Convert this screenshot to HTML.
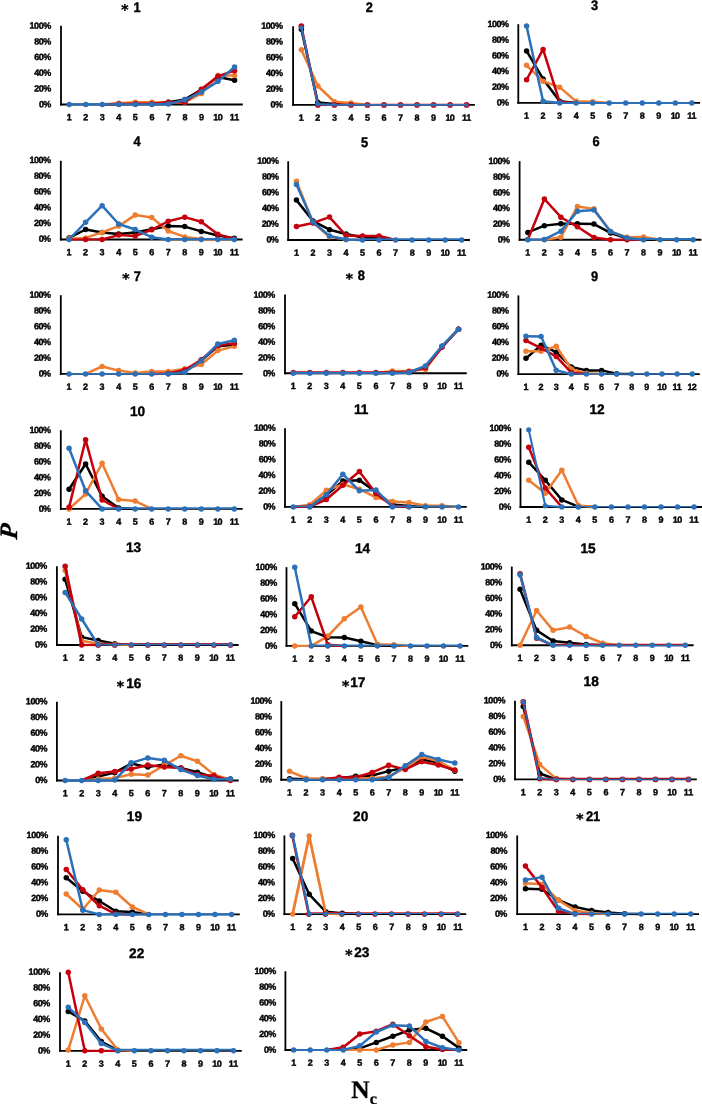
<!DOCTYPE html>
<html lang="en"><head><meta charset="utf-8"><title>Figure</title>
<style>
html,body{margin:0;padding:0;background:#fff}
svg{display:block}
text{text-rendering:geometricPrecision;white-space:pre}
.l{font:bold 9px "Liberation Sans",sans-serif;fill:#000;stroke:#000;stroke-width:.4px}
.t{font:bold 13.8px "Liberation Sans",sans-serif;fill:#000;text-anchor:middle;stroke:#000;stroke-width:.4px}
.a{font:bold 13.8px "DejaVu Sans","Liberation Sans",sans-serif;fill:#000;text-anchor:middle;stroke:#000;stroke-width:.4px}
.y{text-anchor:end}
.x{text-anchor:middle}
.s{fill:none;stroke-linejoin:round;stroke-linecap:round}
.f{fill:none}
</style></head>
<body>
<svg width="702" height="1104" viewBox="0 0 702 1104">
<rect width="702" height="1104" fill="#fff"/>
<g id="c1">
<g transform="rotate(.03 152 120)">
<text class="t" x="137.09" y="12" textLength="7.14" lengthAdjust="spacingAndGlyphs">1</text>
<text class="a" x="124.8" y="14.5">*</text>
<text class="l y" x="51.2" y="107.4" textLength="12.29">0%</text><text class="l y" x="51.2" y="91.66" textLength="17.02">20%</text><text class="l y" x="51.2" y="75.92" textLength="17.02">40%</text><text class="l y" x="51.2" y="60.18" textLength="17.02">60%</text><text class="l y" x="51.2" y="44.44" textLength="17.02">80%</text><text class="l y" x="51.2" y="28.7" textLength="21.75">100%</text>
<text class="l x" x="69.26" y="120.25">1</text><text class="l x" x="85.79" y="120.25">2</text><text class="l x" x="102.32" y="120.25">3</text><text class="l x" x="118.85" y="120.25">4</text><text class="l x" x="135.37" y="120.25">5</text><text class="l x" x="151.9" y="120.25">6</text><text class="l x" x="168.43" y="120.25">7</text><text class="l x" x="184.95" y="120.25">8</text><text class="l x" x="201.48" y="120.25">9</text><text class="l x" x="218.01" y="120.25" textLength="9.31">10</text><text class="l x" x="234.54" y="120.25" textLength="9.31">11</text>
</g>
<path d="M61 25.8V105.45" fill="none" stroke="#000" stroke-width="1.8"/><path d="M60.1 104.5H242.8" fill="none" stroke="#000" stroke-width="1.9"/>
<g fill="#000000" stroke="#000000"><path class="s" stroke-width="2.5" d="M102.32 104.5L118.85 104.11L135.37 103.71L151.9 103.71L168.43 102.14L184.95 99.38L201.48 89.55L218.01 76.95L234.54 80.34"/><g stroke="none"><circle cx="118.85" cy="104.11" r="2.75"/><circle cx="135.37" cy="103.71" r="2.75"/><circle cx="151.9" cy="103.71" r="2.75"/><circle cx="168.43" cy="102.14" r="2.75"/><circle cx="184.95" cy="99.38" r="2.75"/><circle cx="201.48" cy="89.55" r="2.75"/><circle cx="218.01" cy="76.95" r="2.75"/><circle cx="234.54" cy="80.34" r="2.75"/></g></g>
<g fill="#ED7D31" stroke="#ED7D31"><path class="s" stroke-width="2.5" d="M102.32 104.5L118.85 103.32L135.37 102.14L151.9 102.14L168.43 102.93L184.95 102.14L201.48 93.48L218.01 75.38L234.54 75.38"/><g stroke="none"><circle cx="118.85" cy="103.32" r="2.75"/><circle cx="135.37" cy="102.14" r="2.75"/><circle cx="151.9" cy="102.14" r="2.75"/><circle cx="168.43" cy="102.93" r="2.75"/><circle cx="184.95" cy="102.14" r="2.75"/><circle cx="201.48" cy="93.48" r="2.75"/><circle cx="218.01" cy="75.38" r="2.75"/><circle cx="234.54" cy="75.38" r="2.75"/></g></g>
<g fill="#C4000C" stroke="#C4000C"><path class="s" stroke-width="2.5" d="M102.32 104.5L118.85 104.11L135.37 103.71L151.9 103.71L168.43 102.14L184.95 102.3L201.48 89.31L218.01 76.17L234.54 70.66"/><g stroke="none"><circle cx="118.85" cy="104.11" r="2.75"/><circle cx="135.37" cy="103.71" r="2.75"/><circle cx="151.9" cy="103.71" r="2.75"/><circle cx="168.43" cy="102.14" r="2.75"/><circle cx="184.95" cy="102.3" r="2.75"/><circle cx="201.48" cy="89.31" r="2.75"/><circle cx="218.01" cy="76.17" r="2.75"/><circle cx="234.54" cy="70.66" r="2.75"/></g></g>
<g fill="#2B70B8" stroke="#2B70B8"><path class="s" stroke-width="2.5" d="M151.9 104.5L168.43 104.11L184.95 99.78L201.48 92.07L218.01 81.36L234.54 66.88"/><path class="f" stroke-width="2.2" d="M69.26 104.35H85.79M85.79 104.35H102.32M102.32 104.35H118.85M118.85 104.35H135.37M135.37 104.35H151.9"/><g stroke="none"><circle cx="69.26" cy="104.5" r="2.75"/><circle cx="85.79" cy="104.5" r="2.75"/><circle cx="102.32" cy="104.5" r="2.75"/><circle cx="118.85" cy="104.5" r="2.75"/><circle cx="135.37" cy="104.5" r="2.75"/><circle cx="151.9" cy="104.5" r="2.75"/><circle cx="168.43" cy="104.11" r="2.75"/><circle cx="184.95" cy="99.78" r="2.75"/><circle cx="201.48" cy="92.07" r="2.75"/><circle cx="218.01" cy="81.36" r="2.75"/><circle cx="234.54" cy="66.88" r="2.75"/></g></g>
</g>
<g id="c2">
<g transform="rotate(.03 384 120)">
<text class="t" x="369.26" y="12" textLength="7.14" lengthAdjust="spacingAndGlyphs">2</text>
<text class="l y" x="282.9" y="107.62" textLength="12.29">0%</text><text class="l y" x="282.9" y="91.88" textLength="17.02">20%</text><text class="l y" x="282.9" y="76.14" textLength="17.02">40%</text><text class="l y" x="282.9" y="60.4" textLength="17.02">60%</text><text class="l y" x="282.9" y="44.66" textLength="17.02">80%</text><text class="l y" x="282.9" y="28.92" textLength="21.75">100%</text>
<text class="l x" x="301.36" y="120.75">1</text><text class="l x" x="317.89" y="120.75">2</text><text class="l x" x="334.42" y="120.75">3</text><text class="l x" x="350.95" y="120.75">4</text><text class="l x" x="367.47" y="120.75">5</text><text class="l x" x="384" y="120.75">6</text><text class="l x" x="400.53" y="120.75">7</text><text class="l x" x="417.05" y="120.75">8</text><text class="l x" x="433.58" y="120.75">9</text><text class="l x" x="450.11" y="120.75" textLength="9.31">10</text><text class="l x" x="466.64" y="120.75" textLength="9.31">11</text>
</g>
<path d="M293.1 26.2V105.85" fill="none" stroke="#000" stroke-width="1.8"/><path d="M292.2 104.9H474.9" fill="none" stroke="#000" stroke-width="1.9"/>
<g fill="#000000" stroke="#000000"><path class="s" stroke-width="2.5" d="M301.36 29.35L317.89 102.54L334.42 104.11L350.95 104.9"/><g stroke="none"><circle cx="301.36" cy="29.35" r="2.75"/><circle cx="317.89" cy="102.54" r="2.75"/><circle cx="334.42" cy="104.11" r="2.75"/></g></g>
<g fill="#ED7D31" stroke="#ED7D31"><path class="s" stroke-width="2.5" d="M301.36 49.81L317.89 86.01L334.42 101.75L350.95 102.93L367.47 104.9"/><g stroke="none"><circle cx="301.36" cy="49.81" r="2.75"/><circle cx="317.89" cy="86.01" r="2.75"/><circle cx="334.42" cy="101.75" r="2.75"/><circle cx="350.95" cy="102.93" r="2.75"/></g></g>
<g fill="#C4000C" stroke="#C4000C"><path class="s" stroke-width="2.4" d="M301.36 26.2L317.89 104.9"/><path class="f" stroke-width="2.2" d="M317.89 104.9H334.42"/><path class="f" stroke-width="2.2" d="M334.42 104.8H350.95M350.95 104.8H367.47M367.47 104.8H384M384 104.8H400.53M400.53 104.8H417.05M417.05 104.8H433.58M433.58 104.8H450.11M450.11 104.8H466.64"/><g stroke="none"><circle cx="301.36" cy="26.2" r="2.85"/><circle cx="317.89" cy="104.9" r="2.85"/><circle cx="334.42" cy="104.9" r="2.85"/><circle cx="350.95" cy="104.9" r="2.85"/><circle cx="367.47" cy="104.9" r="2.85"/><circle cx="384" cy="104.9" r="2.85"/><circle cx="400.53" cy="104.9" r="2.85"/><circle cx="417.05" cy="104.9" r="2.85"/><circle cx="433.58" cy="104.9" r="2.85"/><circle cx="450.11" cy="104.9" r="2.85"/><circle cx="466.64" cy="104.9" r="2.85"/></g></g>
<g fill="#2B70B8" stroke="#2B70B8"><path class="s" stroke-width="2.1" d="M301.36 27.77L317.89 104.11L334.42 104.9"/><path class="f" stroke-width="1.8" d="M334.42 104.8H350.95M350.95 104.8H367.47M367.47 104.8H384M384 104.8H400.53M400.53 104.8H417.05M417.05 104.8H433.58M433.58 104.8H450.11M450.11 104.8H466.64"/><g stroke="none"><circle cx="301.36" cy="27.77" r="2.3"/><circle cx="317.89" cy="104.11" r="2.3"/><circle cx="334.42" cy="104.9" r="1.8"/><circle cx="350.95" cy="104.9" r="1.8"/><circle cx="367.47" cy="104.9" r="1.8"/><circle cx="384" cy="104.9" r="1.8"/><circle cx="400.53" cy="104.9" r="1.8"/><circle cx="417.05" cy="104.9" r="1.8"/><circle cx="433.58" cy="104.9" r="1.8"/><circle cx="450.11" cy="104.9" r="1.8"/><circle cx="466.64" cy="104.9" r="1.8"/></g></g>
</g>
<g id="c3">
<g transform="rotate(.03 609 118)">
<text class="t" x="594.63" y="10" textLength="7.14" lengthAdjust="spacingAndGlyphs">3</text>
<text class="l y" x="509.08" y="105.66" textLength="12.29">0%</text><text class="l y" x="509.08" y="89.92" textLength="17.02">20%</text><text class="l y" x="509.08" y="74.18" textLength="17.02">40%</text><text class="l y" x="509.08" y="58.44" textLength="17.02">60%</text><text class="l y" x="509.08" y="42.7" textLength="17.02">80%</text><text class="l y" x="509.08" y="26.96" textLength="21.75">100%</text>
<text class="l x" x="526.56" y="118.75">1</text><text class="l x" x="543.09" y="118.75">2</text><text class="l x" x="559.62" y="118.75">3</text><text class="l x" x="576.15" y="118.75">4</text><text class="l x" x="592.67" y="118.75">5</text><text class="l x" x="609.2" y="118.75">6</text><text class="l x" x="625.73" y="118.75">7</text><text class="l x" x="642.25" y="118.75">8</text><text class="l x" x="658.78" y="118.75">9</text><text class="l x" x="675.31" y="118.75" textLength="9.31">10</text><text class="l x" x="691.84" y="118.75" textLength="9.31">11</text>
</g>
<path d="M518.3 24.2V103.85" fill="none" stroke="#000" stroke-width="1.8"/><path d="M517.4 102.9H700.1" fill="none" stroke="#000" stroke-width="1.9"/>
<g fill="#000000" stroke="#000000"><path class="s" stroke-width="2.5" d="M526.56 50.96L543.09 78.9L559.62 101.33L576.15 102.9"/><g stroke="none"><circle cx="526.56" cy="50.96" r="2.75"/><circle cx="543.09" cy="78.9" r="2.75"/><circle cx="559.62" cy="101.33" r="2.75"/></g></g>
<g fill="#ED7D31" stroke="#ED7D31"><path class="s" stroke-width="2.5" d="M526.56 65.28L543.09 81.26L559.62 87.16L576.15 101.33L592.67 101.72L609.2 102.9"/><g stroke="none"><circle cx="526.56" cy="65.28" r="2.75"/><circle cx="543.09" cy="81.26" r="2.75"/><circle cx="559.62" cy="87.16" r="2.75"/><circle cx="576.15" cy="101.33" r="2.75"/><circle cx="592.67" cy="101.72" r="2.75"/></g></g>
<g fill="#C4000C" stroke="#C4000C"><path class="s" stroke-width="2.5" d="M526.56 79.76L543.09 49.38L559.62 102.11L576.15 102.9"/><g stroke="none"><circle cx="526.56" cy="79.76" r="2.75"/><circle cx="543.09" cy="49.38" r="2.75"/><circle cx="559.62" cy="102.11" r="2.75"/></g></g>
<g fill="#2B70B8" stroke="#2B70B8"><path class="s" stroke-width="2.5" d="M526.56 26.09L543.09 101.33L559.62 102.9"/><path class="f" stroke-width="2" d="M559.62 102.9H576.15M576.15 102.9H592.67M592.67 102.9H609.2M609.2 102.9H625.73M625.73 102.9H642.25M642.25 102.9H658.78M658.78 102.9H675.31M675.31 102.9H691.84"/><g stroke="none"><circle cx="526.56" cy="26.09" r="2.75"/><circle cx="543.09" cy="101.33" r="2.75"/><circle cx="559.62" cy="102.9" r="2.75"/><circle cx="576.15" cy="102.9" r="2.75"/><circle cx="592.67" cy="102.9" r="2.75"/><circle cx="609.2" cy="102.9" r="2.75"/><circle cx="625.73" cy="102.9" r="2.75"/><circle cx="642.25" cy="102.9" r="2.75"/><circle cx="658.78" cy="102.9" r="2.75"/><circle cx="675.31" cy="102.9" r="2.75"/><circle cx="691.84" cy="102.9" r="2.75"/></g></g>
</g>
<g id="c4">
<g transform="rotate(.03 152 254)">
<text class="t" x="137.09" y="146" textLength="7.14" lengthAdjust="spacingAndGlyphs">4</text>
<text class="l y" x="51.09" y="241.87" textLength="12.29">0%</text><text class="l y" x="51.09" y="226.13" textLength="17.02">20%</text><text class="l y" x="51.09" y="210.39" textLength="17.02">40%</text><text class="l y" x="51.09" y="194.65" textLength="17.02">60%</text><text class="l y" x="51.09" y="178.91" textLength="17.02">80%</text><text class="l y" x="51.09" y="163.17" textLength="21.75">100%</text>
<text class="l x" x="69.06" y="255.25">1</text><text class="l x" x="85.59" y="255.25">2</text><text class="l x" x="102.12" y="255.25">3</text><text class="l x" x="118.65" y="255.25">4</text><text class="l x" x="135.17" y="255.25">5</text><text class="l x" x="151.7" y="255.25">6</text><text class="l x" x="168.23" y="255.25">7</text><text class="l x" x="184.75" y="255.25">8</text><text class="l x" x="201.28" y="255.25">9</text><text class="l x" x="217.81" y="255.25" textLength="9.31">10</text><text class="l x" x="234.34" y="255.25" textLength="9.31">11</text>
</g>
<path d="M60.8 160.8V240.45" fill="none" stroke="#000" stroke-width="1.8"/><path d="M59.9 239.5H242.6" fill="none" stroke="#000" stroke-width="1.9"/>
<g fill="#000000" stroke="#000000"><path class="s" stroke-width="2.5" d="M69.06 237.93L85.59 229.51L102.12 232.42L118.65 233.99L135.17 232.42L151.7 229.27L168.23 226.12L184.75 226.59L201.28 231.39L217.81 235.56L234.34 238.32"/><g stroke="none"><circle cx="69.06" cy="237.93" r="2.75"/><circle cx="85.59" cy="229.51" r="2.75"/><circle cx="102.12" cy="232.42" r="2.75"/><circle cx="118.65" cy="233.99" r="2.75"/><circle cx="135.17" cy="232.42" r="2.75"/><circle cx="151.7" cy="229.27" r="2.75"/><circle cx="168.23" cy="226.12" r="2.75"/><circle cx="184.75" cy="226.59" r="2.75"/><circle cx="201.28" cy="231.39" r="2.75"/><circle cx="217.81" cy="235.56" r="2.75"/><circle cx="234.34" cy="238.32" r="2.75"/></g></g>
<g fill="#ED7D31" stroke="#ED7D31"><path class="s" stroke-width="2.5" d="M69.06 238.71L85.59 237.93L102.12 232.42L118.65 226.12L135.17 215.1L151.7 217.46L168.23 231L184.75 236.9L201.28 239.11L217.81 239.5"/><g stroke="none"><circle cx="69.06" cy="238.71" r="2.75"/><circle cx="85.59" cy="237.93" r="2.75"/><circle cx="102.12" cy="232.42" r="2.75"/><circle cx="118.65" cy="226.12" r="2.75"/><circle cx="135.17" cy="215.1" r="2.75"/><circle cx="151.7" cy="217.46" r="2.75"/><circle cx="168.23" cy="231" r="2.75"/><circle cx="184.75" cy="236.9" r="2.75"/><circle cx="201.28" cy="239.11" r="2.75"/></g></g>
<g fill="#C4000C" stroke="#C4000C"><path class="s" stroke-width="2.5" d="M102.12 239.5L118.65 235.09L135.17 235.96L151.7 229.74L168.23 221.24L184.75 217.15L201.28 221.79L217.81 234.15L234.34 239.11"/><path class="f" stroke-width="2.2" d="M69.06 239.5H85.59M85.59 239.5H102.12"/><g stroke="none"><circle cx="85.59" cy="239.5" r="2.75"/><circle cx="102.12" cy="239.5" r="2.75"/><circle cx="118.65" cy="235.09" r="2.75"/><circle cx="135.17" cy="235.96" r="2.75"/><circle cx="151.7" cy="229.74" r="2.75"/><circle cx="168.23" cy="221.24" r="2.75"/><circle cx="184.75" cy="217.15" r="2.75"/><circle cx="201.28" cy="221.79" r="2.75"/><circle cx="217.81" cy="234.15" r="2.75"/><circle cx="234.34" cy="239.11" r="2.75"/></g></g>
<g fill="#2B70B8" stroke="#2B70B8"><path class="s" stroke-width="2.5" d="M69.06 239.5L85.59 222.34L102.12 205.66L118.65 224L135.17 229.51L151.7 237.14L168.23 239.5"/><path class="f" stroke-width="2" d="M168.23 239H184.75M184.75 239H201.28M201.28 239H217.81M217.81 239H234.34"/><g stroke="none"><circle cx="69.06" cy="239.5" r="2.75"/><circle cx="85.59" cy="222.34" r="2.75"/><circle cx="102.12" cy="205.66" r="2.75"/><circle cx="118.65" cy="224" r="2.75"/><circle cx="135.17" cy="229.51" r="2.75"/><circle cx="151.7" cy="237.14" r="2.75"/><circle cx="168.23" cy="239.5" r="2.75"/><circle cx="184.75" cy="239.5" r="2.75"/><circle cx="201.28" cy="239.5" r="2.75"/><circle cx="217.81" cy="239.5" r="2.75"/><circle cx="234.34" cy="239.5" r="2.75"/></g></g>
</g>
<g id="c5">
<g transform="rotate(.03 379 255)">
<text class="t" x="364.44" y="147" textLength="7.14" lengthAdjust="spacingAndGlyphs">5</text>
<text class="l y" x="278.89" y="242.47" textLength="12.29">0%</text><text class="l y" x="278.89" y="226.73" textLength="17.02">20%</text><text class="l y" x="278.89" y="210.99" textLength="17.02">40%</text><text class="l y" x="278.89" y="195.25" textLength="17.02">60%</text><text class="l y" x="278.89" y="179.51" textLength="17.02">80%</text><text class="l y" x="278.89" y="163.77" textLength="21.75">100%</text>
<text class="l x" x="296.46" y="255.75">1</text><text class="l x" x="312.99" y="255.75">2</text><text class="l x" x="329.52" y="255.75">3</text><text class="l x" x="346.05" y="255.75">4</text><text class="l x" x="362.57" y="255.75">5</text><text class="l x" x="379.1" y="255.75">6</text><text class="l x" x="395.63" y="255.75">7</text><text class="l x" x="412.15" y="255.75">8</text><text class="l x" x="428.68" y="255.75">9</text><text class="l x" x="445.21" y="255.75" textLength="9.31">10</text><text class="l x" x="461.74" y="255.75" textLength="9.31">11</text>
</g>
<path d="M288.2 161.24V240.89" fill="none" stroke="#000" stroke-width="1.8"/><path d="M287.3 239.94H470" fill="none" stroke="#000" stroke-width="1.9"/>
<g fill="#000000" stroke="#000000"><path class="s" stroke-width="2.5" d="M296.46 200.12L312.99 221.05L329.52 229.71L346.05 234.04L362.57 237.58L379.1 238.37L395.63 239.94"/><g stroke="none"><circle cx="296.46" cy="200.12" r="2.75"/><circle cx="312.99" cy="221.05" r="2.75"/><circle cx="329.52" cy="229.71" r="2.75"/><circle cx="346.05" cy="234.04" r="2.75"/><circle cx="362.57" cy="237.58" r="2.75"/><circle cx="379.1" cy="238.37" r="2.75"/></g></g>
<g fill="#ED7D31" stroke="#ED7D31"><path class="s" stroke-width="2.5" d="M296.46 181.23L312.99 222.63L329.52 236.79L346.05 239.55L362.57 239.94"/><g stroke="none"><circle cx="296.46" cy="181.23" r="2.75"/><circle cx="312.99" cy="222.63" r="2.75"/><circle cx="329.52" cy="236.79" r="2.75"/><circle cx="346.05" cy="239.55" r="2.75"/></g></g>
<g fill="#C4000C" stroke="#C4000C"><path class="s" stroke-width="2.5" d="M296.46 226.56L312.99 222.94L329.52 217.12L346.05 235.53L362.57 236L379.1 236L395.63 239.94"/><g stroke="none"><circle cx="296.46" cy="226.56" r="2.75"/><circle cx="312.99" cy="222.94" r="2.75"/><circle cx="329.52" cy="217.12" r="2.75"/><circle cx="346.05" cy="235.53" r="2.75"/><circle cx="362.57" cy="236" r="2.75"/><circle cx="379.1" cy="236" r="2.75"/></g></g>
<g fill="#2B70B8" stroke="#2B70B8"><path class="s" stroke-width="2.5" d="M296.46 184.38L312.99 222L329.52 236L346.05 239.55L362.57 239.94"/><path class="f" stroke-width="2" d="M362.57 239.24H379.1M379.1 239.24H395.63M395.63 239.24H412.15M412.15 239.24H428.68M428.68 239.24H445.21M445.21 239.24H461.74"/><g stroke="none"><circle cx="296.46" cy="184.38" r="2.75"/><circle cx="312.99" cy="222" r="2.75"/><circle cx="329.52" cy="236" r="2.75"/><circle cx="346.05" cy="239.55" r="2.75"/><circle cx="362.57" cy="239.94" r="2.75"/><circle cx="379.1" cy="239.94" r="2.75"/><circle cx="395.63" cy="239.94" r="2.75"/><circle cx="412.15" cy="239.94" r="2.75"/><circle cx="428.68" cy="239.94" r="2.75"/><circle cx="445.21" cy="239.94" r="2.75"/><circle cx="461.74" cy="239.94" r="2.75"/></g></g>
</g>
<g id="c6">
<g transform="rotate(.03 611 255)">
<text class="t" x="596" y="146" textLength="7.14" lengthAdjust="spacingAndGlyphs">6</text>
<text class="l y" x="510.08" y="242.66" textLength="12.29">0%</text><text class="l y" x="510.08" y="226.92" textLength="17.02">20%</text><text class="l y" x="510.08" y="211.18" textLength="17.02">40%</text><text class="l y" x="510.08" y="195.44" textLength="17.02">60%</text><text class="l y" x="510.08" y="179.7" textLength="17.02">80%</text><text class="l y" x="510.08" y="163.96" textLength="21.75">100%</text>
<text class="l x" x="527.86" y="255.5">1</text><text class="l x" x="544.39" y="255.5">2</text><text class="l x" x="560.92" y="255.5">3</text><text class="l x" x="577.45" y="255.5">4</text><text class="l x" x="593.97" y="255.5">5</text><text class="l x" x="610.5" y="255.5">6</text><text class="l x" x="627.03" y="255.5">7</text><text class="l x" x="643.55" y="255.5">8</text><text class="l x" x="660.08" y="255.5">9</text><text class="l x" x="676.61" y="255.5" textLength="9.31">10</text><text class="l x" x="693.14" y="255.5" textLength="9.31">11</text>
</g>
<path d="M519.6 161.1V240.75" fill="none" stroke="#000" stroke-width="1.8"/><path d="M518.7 239.8H701.4" fill="none" stroke="#000" stroke-width="1.9"/>
<g fill="#000000" stroke="#000000"><path class="s" stroke-width="2.5" d="M527.86 232.4L544.39 225.63L560.92 223.67L577.45 223.67L593.97 224.06L610.5 232.95L627.03 238.23L643.55 239.41L660.08 239.8"/><g stroke="none"><circle cx="527.86" cy="232.4" r="2.75"/><circle cx="544.39" cy="225.63" r="2.75"/><circle cx="560.92" cy="223.67" r="2.75"/><circle cx="577.45" cy="223.67" r="2.75"/><circle cx="593.97" cy="224.06" r="2.75"/><circle cx="610.5" cy="232.95" r="2.75"/><circle cx="627.03" cy="238.23" r="2.75"/><circle cx="643.55" cy="239.41" r="2.75"/></g></g>
<g fill="#ED7D31" stroke="#ED7D31"><path class="s" stroke-width="2.5" d="M544.39 239.8L560.92 237.2L577.45 206.43L593.97 208.87L610.5 231.62L627.03 237.2L643.55 237.05L660.08 239.8"/><path class="f" stroke-width="2.2" d="M527.86 239.8H544.39"/><g stroke="none"><circle cx="544.39" cy="239.8" r="2.75"/><circle cx="560.92" cy="237.2" r="2.75"/><circle cx="577.45" cy="206.43" r="2.75"/><circle cx="593.97" cy="208.87" r="2.75"/><circle cx="610.5" cy="231.62" r="2.75"/><circle cx="627.03" cy="237.2" r="2.75"/><circle cx="643.55" cy="237.05" r="2.75"/></g></g>
<g fill="#C4000C" stroke="#C4000C"><path class="s" stroke-width="2.5" d="M527.86 239.41L544.39 199.03L560.92 217.21L577.45 226.81L593.97 237.6L610.5 239.8"/><path class="f" stroke-width="2.2" d="M610.5 239.8H627.03M627.03 239.8H643.55"/><g stroke="none"><circle cx="527.86" cy="239.41" r="2.75"/><circle cx="544.39" cy="199.03" r="2.75"/><circle cx="560.92" cy="217.21" r="2.75"/><circle cx="577.45" cy="226.81" r="2.75"/><circle cx="593.97" cy="237.6" r="2.75"/><circle cx="610.5" cy="239.8" r="2.75"/><circle cx="627.03" cy="239.8" r="2.75"/></g></g>
<g fill="#2B70B8" stroke="#2B70B8"><path class="s" stroke-width="2.5" d="M527.86 239.8L544.39 239.41L560.92 231.14L577.45 211.31L593.97 209.89L610.5 231.46L627.03 237.91L643.55 239.8"/><path class="f" stroke-width="2" d="M643.55 239.1H660.08M660.08 239.1H676.61M676.61 239.1H693.14"/><g stroke="none"><circle cx="527.86" cy="239.8" r="2.75"/><circle cx="544.39" cy="239.41" r="2.75"/><circle cx="560.92" cy="231.14" r="2.75"/><circle cx="577.45" cy="211.31" r="2.75"/><circle cx="593.97" cy="209.89" r="2.75"/><circle cx="610.5" cy="231.46" r="2.75"/><circle cx="627.03" cy="237.91" r="2.75"/><circle cx="643.55" cy="239.8" r="2.75"/><circle cx="660.08" cy="239.8" r="2.75"/><circle cx="676.61" cy="239.8" r="2.75"/><circle cx="693.14" cy="239.8" r="2.75"/></g></g>
</g>
<g id="c7">
<g transform="rotate(.03 152 389)">
<text class="t" x="137.3" y="281" textLength="7.14" lengthAdjust="spacingAndGlyphs">7</text>
<text class="a" x="125.74" y="283.57">*</text>
<text class="l y" x="51.09" y="376.62" textLength="12.29">0%</text><text class="l y" x="51.09" y="360.88" textLength="17.02">20%</text><text class="l y" x="51.09" y="345.14" textLength="17.02">40%</text><text class="l y" x="51.09" y="329.4" textLength="17.02">60%</text><text class="l y" x="51.09" y="313.66" textLength="17.02">80%</text><text class="l y" x="51.09" y="297.92" textLength="21.75">100%</text>
<text class="l x" x="69.06" y="389.75">1</text><text class="l x" x="85.59" y="389.75">2</text><text class="l x" x="102.12" y="389.75">3</text><text class="l x" x="118.65" y="389.75">4</text><text class="l x" x="135.17" y="389.75">5</text><text class="l x" x="151.7" y="389.75">6</text><text class="l x" x="168.23" y="389.75">7</text><text class="l x" x="184.75" y="389.75">8</text><text class="l x" x="201.28" y="389.75">9</text><text class="l x" x="217.81" y="389.75" textLength="9.31">10</text><text class="l x" x="234.34" y="389.75" textLength="9.31">11</text>
</g>
<path d="M60.8 295.2V374.85" fill="none" stroke="#000" stroke-width="1.8"/><path d="M59.9 373.9H242.6" fill="none" stroke="#000" stroke-width="1.9"/>
<g fill="#000000" stroke="#000000"><path class="s" stroke-width="2.5" d="M168.23 373.9L184.75 370.75L201.28 360.52L217.81 346.35L234.34 344.78"/><g stroke="none"><circle cx="184.75" cy="370.75" r="2.75"/><circle cx="201.28" cy="360.52" r="2.75"/><circle cx="217.81" cy="346.35" r="2.75"/><circle cx="234.34" cy="344.78" r="2.75"/></g></g>
<g fill="#ED7D31" stroke="#ED7D31"><path class="s" stroke-width="2.5" d="M85.59 373.9L102.12 366.5L118.65 370.59L135.17 373.11L151.7 371.54L168.23 371.54L184.75 368.78L201.28 364.46L217.81 350.6L234.34 346.35"/><g stroke="none"><circle cx="102.12" cy="366.5" r="2.75"/><circle cx="118.65" cy="370.59" r="2.75"/><circle cx="135.17" cy="373.11" r="2.75"/><circle cx="151.7" cy="371.54" r="2.75"/><circle cx="168.23" cy="371.54" r="2.75"/><circle cx="184.75" cy="368.78" r="2.75"/><circle cx="201.28" cy="364.46" r="2.75"/><circle cx="217.81" cy="350.6" r="2.75"/><circle cx="234.34" cy="346.35" r="2.75"/></g></g>
<g fill="#C4000C" stroke="#C4000C"><path class="s" stroke-width="2.5" d="M151.7 373.9L168.23 373.51L184.75 369.96L201.28 359.73L217.81 345.57L234.34 343.21"/><g stroke="none"><circle cx="168.23" cy="373.51" r="2.75"/><circle cx="184.75" cy="369.96" r="2.75"/><circle cx="201.28" cy="359.73" r="2.75"/><circle cx="217.81" cy="345.57" r="2.75"/><circle cx="234.34" cy="343.21" r="2.75"/></g></g>
<g fill="#2B70B8" stroke="#2B70B8"><path class="s" stroke-width="2.5" d="M168.23 373.9L184.75 372.33L201.28 360.76L217.81 343.99L234.34 340.22"/><path class="f" stroke-width="1.7" d="M69.06 373.8H85.59M85.59 373.8H102.12M102.12 373.8H118.65M118.65 373.8H135.17M135.17 373.8H151.7M151.7 373.8H168.23"/><g stroke="none"><circle cx="69.06" cy="373.9" r="2.75"/><circle cx="85.59" cy="373.9" r="2.75"/><circle cx="102.12" cy="373.9" r="2.75"/><circle cx="118.65" cy="373.9" r="2.75"/><circle cx="135.17" cy="373.9" r="2.75"/><circle cx="151.7" cy="373.9" r="2.75"/><circle cx="168.23" cy="373.9" r="2.75"/><circle cx="184.75" cy="372.33" r="2.75"/><circle cx="201.28" cy="360.76" r="2.75"/><circle cx="217.81" cy="343.99" r="2.75"/><circle cx="234.34" cy="340.22" r="2.75"/></g></g>
</g>
<g id="c8">
<g transform="rotate(.03 376 388)">
<text class="t" x="361.39" y="280" textLength="7.14" lengthAdjust="spacingAndGlyphs">8</text>
<text class="a" x="349.3" y="283.53">*</text>
<text class="l y" x="275.31" y="376.41" textLength="12.29">0%</text><text class="l y" x="275.31" y="360.67" textLength="17.02">20%</text><text class="l y" x="275.31" y="344.93" textLength="17.02">40%</text><text class="l y" x="275.31" y="329.19" textLength="17.02">60%</text><text class="l y" x="275.31" y="313.45" textLength="17.02">80%</text><text class="l y" x="275.31" y="297.71" textLength="21.75">100%</text>
<text class="l x" x="293.26" y="389">1</text><text class="l x" x="309.79" y="389">2</text><text class="l x" x="326.32" y="389">3</text><text class="l x" x="342.85" y="389">4</text><text class="l x" x="359.37" y="389">5</text><text class="l x" x="375.9" y="389">6</text><text class="l x" x="392.43" y="389">7</text><text class="l x" x="408.95" y="389">8</text><text class="l x" x="425.48" y="389">9</text><text class="l x" x="442.01" y="389" textLength="9.31">10</text><text class="l x" x="458.54" y="389" textLength="9.31">11</text>
</g>
<path d="M285 294.62V374.27" fill="none" stroke="#000" stroke-width="1.8"/><path d="M284.1 373.32H466.8" fill="none" stroke="#000" stroke-width="1.9"/>
<g fill="#000000" stroke="#000000"><path class="s" stroke-width="2.5" d="M375.9 373.32L392.43 372.53L408.95 372.14L425.48 367.02L442.01 346.56L458.54 329.25"/><g stroke="none"><circle cx="392.43" cy="372.53" r="2.75"/><circle cx="408.95" cy="372.14" r="2.75"/><circle cx="425.48" cy="367.02" r="2.75"/><circle cx="442.01" cy="346.56" r="2.75"/><circle cx="458.54" cy="329.25" r="2.75"/></g></g>
<g fill="#ED7D31" stroke="#ED7D31"><path class="s" stroke-width="2.5" d="M375.9 373.32L392.43 370.96L408.95 370.96L425.48 369.38L442.01 346.56L458.54 329.25"/><g stroke="none"><circle cx="392.43" cy="370.96" r="2.75"/><circle cx="408.95" cy="370.96" r="2.75"/><circle cx="425.48" cy="369.38" r="2.75"/><circle cx="442.01" cy="346.56" r="2.75"/><circle cx="458.54" cy="329.25" r="2.75"/></g></g>
<g fill="#C4000C" stroke="#C4000C"><path class="s" stroke-width="2.5" d="M293.26 372.53L309.79 372.53L326.32 372.53L342.85 372.53L359.37 372.53L375.9 372.53L392.43 372.53L408.95 371.75L425.48 367.81L442.01 347.35L458.54 329.25"/><g stroke="none"><circle cx="293.26" cy="372.53" r="2.75"/><circle cx="309.79" cy="372.53" r="2.75"/><circle cx="326.32" cy="372.53" r="2.75"/><circle cx="342.85" cy="372.53" r="2.75"/><circle cx="359.37" cy="372.53" r="2.75"/><circle cx="375.9" cy="372.53" r="2.75"/><circle cx="392.43" cy="372.53" r="2.75"/><circle cx="408.95" cy="371.75" r="2.75"/><circle cx="425.48" cy="367.81" r="2.75"/><circle cx="442.01" cy="347.35" r="2.75"/><circle cx="458.54" cy="329.25" r="2.75"/></g></g>
<g fill="#2B70B8" stroke="#2B70B8"><path class="s" stroke-width="2.5" d="M392.43 373.32L408.95 372.53L425.48 365.92L442.01 345.93L458.54 329.25"/><path class="f" stroke-width="2.3" d="M293.26 373.22H309.79M309.79 373.22H326.32M326.32 373.22H342.85M342.85 373.22H359.37M359.37 373.22H375.9M375.9 373.22H392.43"/><g stroke="none"><circle cx="293.26" cy="373.32" r="2.75"/><circle cx="309.79" cy="373.32" r="2.75"/><circle cx="326.32" cy="373.32" r="2.75"/><circle cx="342.85" cy="373.32" r="2.75"/><circle cx="359.37" cy="373.32" r="2.75"/><circle cx="375.9" cy="373.32" r="2.75"/><circle cx="392.43" cy="373.32" r="2.75"/><circle cx="408.95" cy="372.53" r="2.75"/><circle cx="425.48" cy="365.92" r="2.75"/><circle cx="442.01" cy="345.93" r="2.75"/><circle cx="458.54" cy="329.25" r="2.75"/></g></g>
</g>
<g id="c9">
<g transform="rotate(.03 609 389)">
<text class="t" x="594.63" y="281" textLength="7.14" lengthAdjust="spacingAndGlyphs">9</text>
<text class="l y" x="508.89" y="376.6" textLength="12.29">0%</text><text class="l y" x="508.89" y="360.86" textLength="17.02">20%</text><text class="l y" x="508.89" y="345.12" textLength="17.02">40%</text><text class="l y" x="508.89" y="329.38" textLength="17.02">60%</text><text class="l y" x="508.89" y="313.64" textLength="17.02">80%</text><text class="l y" x="508.89" y="297.9" textLength="21.75">100%</text>
<text class="l x" x="525.96" y="390">1</text><text class="l x" x="541.07" y="390">2</text><text class="l x" x="556.19" y="390">3</text><text class="l x" x="571.31" y="390">4</text><text class="l x" x="586.42" y="390">5</text><text class="l x" x="601.54" y="390">6</text><text class="l x" x="616.66" y="390">7</text><text class="l x" x="631.77" y="390">8</text><text class="l x" x="646.89" y="390">9</text><text class="l x" x="662.01" y="390" textLength="9.31">10</text><text class="l x" x="677.12" y="390" textLength="9.31">11</text><text class="l x" x="692.24" y="390" textLength="9.31">12</text>
</g>
<path d="M518.4 295.4V375.05" fill="none" stroke="#000" stroke-width="1.8"/><path d="M517.5 374.1H699.8" fill="none" stroke="#000" stroke-width="1.9"/>
<g fill="#000000" stroke="#000000"><path class="s" stroke-width="2.5" d="M525.96 358.36L541.07 345.22L556.19 352.22L571.31 367.02L586.42 370.4L601.54 370.4L616.66 373.71L631.77 374.1"/><g stroke="none"><circle cx="525.96" cy="358.36" r="2.75"/><circle cx="541.07" cy="345.22" r="2.75"/><circle cx="556.19" cy="352.22" r="2.75"/><circle cx="571.31" cy="367.02" r="2.75"/><circle cx="586.42" cy="370.4" r="2.75"/><circle cx="601.54" cy="370.4" r="2.75"/><circle cx="616.66" cy="373.71" r="2.75"/></g></g>
<g fill="#ED7D31" stroke="#ED7D31"><path class="s" stroke-width="2.5" d="M525.96 351.28L541.07 351.28L556.19 346.32L571.31 368.91L586.42 373.31L601.54 374.1"/><g stroke="none"><circle cx="525.96" cy="351.28" r="2.75"/><circle cx="541.07" cy="351.28" r="2.75"/><circle cx="556.19" cy="346.32" r="2.75"/><circle cx="571.31" cy="368.91" r="2.75"/><circle cx="586.42" cy="373.31" r="2.75"/></g></g>
<g fill="#C4000C" stroke="#C4000C"><path class="s" stroke-width="2.5" d="M525.96 340.57L541.07 348.13L556.19 356.47L571.31 372.53L586.42 374.1"/><g stroke="none"><circle cx="525.96" cy="340.57" r="2.75"/><circle cx="541.07" cy="348.13" r="2.75"/><circle cx="556.19" cy="356.47" r="2.75"/><circle cx="571.31" cy="372.53" r="2.75"/></g></g>
<g fill="#2B70B8" stroke="#2B70B8"><path class="s" stroke-width="2.5" d="M525.96 336.17L541.07 336.48L556.19 370.17L571.31 374.1"/><path class="f" stroke-width="1.6" d="M571.31 374H586.42M586.42 374H601.54M601.54 374H616.66M616.66 374H631.77M631.77 374H646.89M646.89 374H662.01M662.01 374H677.12M677.12 374H692.24"/><g stroke="none"><circle cx="525.96" cy="336.17" r="2.75"/><circle cx="541.07" cy="336.48" r="2.75"/><circle cx="556.19" cy="370.17" r="2.75"/><circle cx="571.31" cy="374.1" r="2.75"/><circle cx="586.42" cy="374.1" r="2.75"/><circle cx="601.54" cy="374.1" r="2.75"/><circle cx="616.66" cy="374.1" r="2.75"/><circle cx="631.77" cy="374.1" r="2.75"/><circle cx="646.89" cy="374.1" r="2.75"/><circle cx="662.01" cy="374.1" r="2.75"/><circle cx="677.12" cy="374.1" r="2.75"/><circle cx="692.24" cy="374.1" r="2.75"/></g></g>
</g>
<g id="c10">
<g transform="rotate(.03 152 524)">
<text class="t" x="137.47" y="416" textLength="15.19" lengthAdjust="spacingAndGlyphs">10</text>
<text class="l y" x="51.09" y="511.76" textLength="12.29">0%</text><text class="l y" x="51.09" y="496.02" textLength="17.02">20%</text><text class="l y" x="51.09" y="480.28" textLength="17.02">40%</text><text class="l y" x="51.09" y="464.54" textLength="17.02">60%</text><text class="l y" x="51.09" y="448.8" textLength="17.02">80%</text><text class="l y" x="51.09" y="433.06" textLength="21.75">100%</text>
<text class="l x" x="69.06" y="524.75">1</text><text class="l x" x="85.59" y="524.75">2</text><text class="l x" x="102.12" y="524.75">3</text><text class="l x" x="118.65" y="524.75">4</text><text class="l x" x="135.17" y="524.75">5</text><text class="l x" x="151.7" y="524.75">6</text><text class="l x" x="168.23" y="524.75">7</text><text class="l x" x="184.75" y="524.75">8</text><text class="l x" x="201.28" y="524.75">9</text><text class="l x" x="217.81" y="524.75" textLength="9.31">10</text><text class="l x" x="234.34" y="524.75" textLength="9.31">11</text>
</g>
<path d="M60.8 430.2V509.85" fill="none" stroke="#000" stroke-width="1.8"/><path d="M59.9 508.9H242.6" fill="none" stroke="#000" stroke-width="1.9"/>
<g fill="#000000" stroke="#000000"><path class="s" stroke-width="2.5" d="M69.06 489.22L85.59 464.04L102.12 496.31L118.65 508.11L135.17 508.9"/><g stroke="none"><circle cx="69.06" cy="489.22" r="2.75"/><circle cx="85.59" cy="464.04" r="2.75"/><circle cx="102.12" cy="496.31" r="2.75"/><circle cx="118.65" cy="508.11" r="2.75"/></g></g>
<g fill="#ED7D31" stroke="#ED7D31"><path class="s" stroke-width="2.5" d="M69.06 508.9L85.59 493.95L102.12 463.25L118.65 499.61L135.17 501.03L151.7 508.9"/><g stroke="none"><circle cx="69.06" cy="508.9" r="2.75"/><circle cx="85.59" cy="493.95" r="2.75"/><circle cx="102.12" cy="463.25" r="2.75"/><circle cx="118.65" cy="499.61" r="2.75"/><circle cx="135.17" cy="501.03" r="2.75"/></g></g>
<g fill="#C4000C" stroke="#C4000C"><path class="s" stroke-width="2.5" d="M69.06 507.33L85.59 439.8L102.12 500.01L118.65 508.9"/><g stroke="none"><circle cx="69.06" cy="507.33" r="2.75"/><circle cx="85.59" cy="439.8" r="2.75"/><circle cx="102.12" cy="500.01" r="2.75"/></g></g>
<g fill="#2B70B8" stroke="#2B70B8"><path class="s" stroke-width="2.5" d="M69.06 448.3L85.59 490.8L102.12 508.9"/><path class="f" stroke-width="1.6" d="M102.12 508.1H118.65M118.65 508.1H135.17M135.17 508.1H151.7M151.7 508.1H168.23M168.23 508.1H184.75M184.75 508.1H201.28M201.28 508.1H217.81M217.81 508.1H234.34"/><g stroke="none"><circle cx="69.06" cy="448.3" r="2.75"/><circle cx="85.59" cy="490.8" r="2.75"/><circle cx="102.12" cy="508.9" r="2.75"/><circle cx="118.65" cy="508.9" r="2.75"/><circle cx="135.17" cy="508.9" r="2.75"/><circle cx="151.7" cy="508.9" r="2.75"/><circle cx="168.23" cy="508.9" r="2.75"/><circle cx="184.75" cy="508.9" r="2.75"/><circle cx="201.28" cy="508.9" r="2.75"/><circle cx="217.81" cy="508.9" r="2.75"/><circle cx="234.34" cy="508.9" r="2.75"/></g></g>
</g>
<g id="c11">
<g transform="rotate(.03 376 522)">
<text class="t" x="361.17" y="414" textLength="14.42" lengthAdjust="spacingAndGlyphs">11</text>
<text class="l y" x="275.62" y="509.56" textLength="12.29">0%</text><text class="l y" x="275.62" y="493.82" textLength="17.02">20%</text><text class="l y" x="275.62" y="478.08" textLength="17.02">40%</text><text class="l y" x="275.62" y="462.34" textLength="17.02">60%</text><text class="l y" x="275.62" y="446.6" textLength="17.02">80%</text><text class="l y" x="275.62" y="430.86" textLength="21.75">100%</text>
<text class="l x" x="293.26" y="522.75">1</text><text class="l x" x="309.79" y="522.75">2</text><text class="l x" x="326.32" y="522.75">3</text><text class="l x" x="342.85" y="522.75">4</text><text class="l x" x="359.37" y="522.75">5</text><text class="l x" x="375.9" y="522.75">6</text><text class="l x" x="392.43" y="522.75">7</text><text class="l x" x="408.95" y="522.75">8</text><text class="l x" x="425.48" y="522.75">9</text><text class="l x" x="442.01" y="522.75" textLength="9.31">10</text><text class="l x" x="458.54" y="522.75" textLength="9.31">11</text>
</g>
<path d="M285 428.2V507.85" fill="none" stroke="#000" stroke-width="1.8"/><path d="M284.1 506.9H466.8" fill="none" stroke="#000" stroke-width="1.9"/>
<g fill="#000000" stroke="#000000"><path class="s" stroke-width="2.5" d="M293.26 506.9L309.79 506.11L326.32 495.41L342.85 480.93L359.37 480.14L375.9 491.95L392.43 504.54L408.95 506.11L425.48 506.9"/><g stroke="none"><circle cx="309.79" cy="506.11" r="2.75"/><circle cx="326.32" cy="495.41" r="2.75"/><circle cx="342.85" cy="480.93" r="2.75"/><circle cx="359.37" cy="480.14" r="2.75"/><circle cx="375.9" cy="491.95" r="2.75"/><circle cx="392.43" cy="504.54" r="2.75"/><circle cx="408.95" cy="506.11" r="2.75"/></g></g>
<g fill="#ED7D31" stroke="#ED7D31"><path class="s" stroke-width="2.5" d="M293.26 506.9L309.79 504.7L326.32 490.37L342.85 484.31L359.37 489.19L375.9 497.46L392.43 501.55L408.95 502.49L425.48 505.72L442.01 505.72L458.54 506.9"/><g stroke="none"><circle cx="309.79" cy="504.7" r="2.75"/><circle cx="326.32" cy="490.37" r="2.75"/><circle cx="342.85" cy="484.31" r="2.75"/><circle cx="359.37" cy="489.19" r="2.75"/><circle cx="375.9" cy="497.46" r="2.75"/><circle cx="392.43" cy="501.55" r="2.75"/><circle cx="408.95" cy="502.49" r="2.75"/><circle cx="425.48" cy="505.72" r="2.75"/><circle cx="442.01" cy="505.72" r="2.75"/></g></g>
<g fill="#C4000C" stroke="#C4000C"><path class="s" stroke-width="2.5" d="M293.26 506.9L309.79 506.51L326.32 499.5L342.85 485.26L359.37 471.48L375.9 493.52L392.43 506.11L408.95 506.9"/><g stroke="none"><circle cx="309.79" cy="506.51" r="2.75"/><circle cx="326.32" cy="499.5" r="2.75"/><circle cx="342.85" cy="485.26" r="2.75"/><circle cx="359.37" cy="471.48" r="2.75"/><circle cx="375.9" cy="493.52" r="2.75"/><circle cx="392.43" cy="506.11" r="2.75"/></g></g>
<g fill="#2B70B8" stroke="#2B70B8"><path class="s" stroke-width="2.5" d="M309.79 506.9L326.32 494.86L342.85 474.16L359.37 490.77L375.9 489.9L392.43 506.9"/><path class="f" stroke-width="1.6" d="M293.26 506.4H309.79M392.43 506.4H408.95M408.95 506.4H425.48M425.48 506.4H442.01M442.01 506.4H458.54"/><g stroke="none"><circle cx="293.26" cy="506.9" r="2.75"/><circle cx="309.79" cy="506.9" r="2.75"/><circle cx="326.32" cy="494.86" r="2.75"/><circle cx="342.85" cy="474.16" r="2.75"/><circle cx="359.37" cy="490.77" r="2.75"/><circle cx="375.9" cy="489.9" r="2.75"/><circle cx="392.43" cy="506.9" r="2.75"/><circle cx="408.95" cy="506.9" r="2.75"/><circle cx="425.48" cy="506.9" r="2.75"/><circle cx="442.01" cy="506.9" r="2.75"/><circle cx="458.54" cy="506.9" r="2.75"/></g></g>
</g>
<g id="c12">
<g transform="rotate(.03 612 522)">
<text class="t" x="596.96" y="414" textLength="15.19" lengthAdjust="spacingAndGlyphs">12</text>
<text class="l y" x="511.15" y="509.7" textLength="12.29">0%</text><text class="l y" x="511.15" y="493.96" textLength="17.02">20%</text><text class="l y" x="511.15" y="478.22" textLength="17.02">40%</text><text class="l y" x="511.15" y="462.48" textLength="17.02">60%</text><text class="l y" x="511.15" y="446.74" textLength="17.02">80%</text><text class="l y" x="511.15" y="431" textLength="21.75">100%</text>
<text class="l x" x="528.76" y="522.75">1</text><text class="l x" x="545.29" y="522.75">2</text><text class="l x" x="561.82" y="522.75">3</text><text class="l x" x="578.35" y="522.75">4</text><text class="l x" x="594.87" y="522.75">5</text><text class="l x" x="611.4" y="522.75">6</text><text class="l x" x="627.93" y="522.75">7</text><text class="l x" x="644.45" y="522.75">8</text><text class="l x" x="660.98" y="522.75">9</text><text class="l x" x="677.51" y="522.75" textLength="9.31">10</text><text class="l x" x="694.04" y="522.75" textLength="9.31">11</text>
</g>
<path d="M520.5 428.3V507.95" fill="none" stroke="#000" stroke-width="1.8"/><path d="M519.6 507H702" fill="none" stroke="#000" stroke-width="1.9"/>
<g fill="#000000" stroke="#000000"><path class="s" stroke-width="2.5" d="M528.76 462.14L545.29 480.24L561.82 499.92L578.35 506.61L594.87 507"/><g stroke="none"><circle cx="528.76" cy="462.14" r="2.75"/><circle cx="545.29" cy="480.24" r="2.75"/><circle cx="561.82" cy="499.92" r="2.75"/><circle cx="578.35" cy="506.61" r="2.75"/></g></g>
<g fill="#ED7D31" stroke="#ED7D31"><path class="s" stroke-width="2.5" d="M528.76 480.24L545.29 493.15L561.82 470.17L578.35 505.43L594.87 507"/><g stroke="none"><circle cx="528.76" cy="480.24" r="2.75"/><circle cx="545.29" cy="493.15" r="2.75"/><circle cx="561.82" cy="470.17" r="2.75"/><circle cx="578.35" cy="505.43" r="2.75"/></g></g>
<g fill="#C4000C" stroke="#C4000C"><path class="s" stroke-width="2.5" d="M528.76 447.19L545.29 488.11L561.82 507"/><g stroke="none"><circle cx="528.76" cy="447.19" r="2.75"/><circle cx="545.29" cy="488.11" r="2.75"/></g></g>
<g fill="#2B70B8" stroke="#2B70B8"><path class="s" stroke-width="2.1" d="M528.76 429.87L545.29 505.74L561.82 507"/><path class="f" stroke-width="1.3" d="M561.82 506.6H578.35M578.35 506.6H594.87M594.87 506.6H611.4M611.4 506.6H627.93M627.93 506.6H644.45M644.45 506.6H660.98M660.98 506.6H677.51M677.51 506.6H694.04"/><g stroke="none"><circle cx="528.76" cy="429.87" r="2.6"/><circle cx="545.29" cy="505.74" r="2.6"/><circle cx="561.82" cy="507" r="2.75"/><circle cx="578.35" cy="507" r="2.75"/><circle cx="594.87" cy="507" r="2.75"/><circle cx="611.4" cy="507" r="2.75"/><circle cx="627.93" cy="507" r="2.75"/><circle cx="644.45" cy="507" r="2.75"/><circle cx="660.98" cy="507" r="2.75"/><circle cx="677.51" cy="507" r="2.75"/><circle cx="694.04" cy="507" r="2.75"/></g></g>
</g>
<g id="c13">
<g transform="rotate(.03 148 660)">
<text class="t" x="133.47" y="552" textLength="15.19" lengthAdjust="spacingAndGlyphs">13</text>
<text class="l y" x="47.34" y="647.6" textLength="12.29">0%</text><text class="l y" x="47.34" y="631.86" textLength="17.02">20%</text><text class="l y" x="47.34" y="616.12" textLength="17.02">40%</text><text class="l y" x="47.34" y="600.38" textLength="17.02">60%</text><text class="l y" x="47.34" y="584.64" textLength="17.02">80%</text><text class="l y" x="47.34" y="568.9" textLength="21.75">100%</text>
<text class="l x" x="65.16" y="660.75">1</text><text class="l x" x="81.69" y="660.75">2</text><text class="l x" x="98.22" y="660.75">3</text><text class="l x" x="114.75" y="660.75">4</text><text class="l x" x="131.27" y="660.75">5</text><text class="l x" x="147.8" y="660.75">6</text><text class="l x" x="164.33" y="660.75">7</text><text class="l x" x="180.85" y="660.75">8</text><text class="l x" x="197.38" y="660.75">9</text><text class="l x" x="213.91" y="660.75" textLength="9.31">10</text><text class="l x" x="230.44" y="660.75" textLength="9.31">11</text>
</g>
<path d="M56.9 566.3V645.95" fill="none" stroke="#000" stroke-width="1.8"/><path d="M56 645H238.7" fill="none" stroke="#000" stroke-width="1.9"/>
<g fill="#000000" stroke="#000000"><path class="s" stroke-width="2.5" d="M65.16 579.29L81.69 637.13L98.22 640.59L114.75 643.82L131.27 645"/><g stroke="none"><circle cx="65.16" cy="579.29" r="2.75"/><circle cx="81.69" cy="637.13" r="2.75"/><circle cx="98.22" cy="640.59" r="2.75"/><circle cx="114.75" cy="643.82" r="2.75"/></g></g>
<g fill="#ED7D31" stroke="#ED7D31"><path class="s" stroke-width="2.5" d="M65.16 570.55L81.69 640.67L98.22 643.82L114.75 644.21L131.27 645"/><g stroke="none"><circle cx="65.16" cy="570.55" r="2.75"/><circle cx="81.69" cy="640.67" r="2.75"/><circle cx="98.22" cy="643.82" r="2.75"/><circle cx="114.75" cy="644.21" r="2.75"/></g></g>
<g fill="#C4000C" stroke="#C4000C"><path class="s" stroke-width="2.8" d="M65.16 566.3L81.69 645"/><path class="f" stroke-width="2.2" d="M81.69 645H98.22"/><path class="f" stroke-width="1" d="M98.22 643.6H114.75M114.75 643.6H131.27M131.27 643.6H147.8M147.8 643.6H164.33M164.33 643.6H180.85M180.85 643.6H197.38M197.38 643.6H213.91M213.91 643.6H230.44"/><g stroke="none"><circle cx="65.16" cy="566.3" r="2.75"/><circle cx="81.69" cy="645" r="2.75"/><circle cx="98.22" cy="645" r="2.85"/><circle cx="114.75" cy="645" r="2.85"/><circle cx="131.27" cy="645" r="2.85"/><circle cx="147.8" cy="645" r="2.85"/><circle cx="164.33" cy="645" r="2.85"/><circle cx="180.85" cy="645" r="2.85"/><circle cx="197.38" cy="645" r="2.85"/><circle cx="213.91" cy="645" r="2.85"/><circle cx="230.44" cy="645" r="2.85"/></g></g>
<g fill="#2B70B8" stroke="#2B70B8"><path class="s" stroke-width="2.5" d="M65.16 592.43L81.69 619.03L98.22 645"/><path class="f" stroke-width="1.5" d="M98.22 644.4H114.75M114.75 644.4H131.27M131.27 644.4H147.8M147.8 644.4H164.33M164.33 644.4H180.85M180.85 644.4H197.38M197.38 644.4H213.91M213.91 644.4H230.44"/><g stroke="none"><circle cx="65.16" cy="592.43" r="2.75"/><circle cx="81.69" cy="619.03" r="2.75"/><circle cx="98.22" cy="645" r="2.4"/><circle cx="114.75" cy="645" r="2.4"/><circle cx="131.27" cy="645" r="2.4"/><circle cx="147.8" cy="645" r="2.4"/><circle cx="164.33" cy="645" r="2.4"/><circle cx="180.85" cy="645" r="2.4"/><circle cx="197.38" cy="645" r="2.4"/><circle cx="213.91" cy="645" r="2.4"/><circle cx="230.44" cy="645" r="2.4"/></g></g>
</g>
<g id="c14">
<g transform="rotate(.03 378 661)">
<text class="t" x="362.54" y="553" textLength="15.19" lengthAdjust="spacingAndGlyphs">14</text>
<text class="l y" x="277.18" y="648.76" textLength="12.29">0%</text><text class="l y" x="277.18" y="633.02" textLength="17.02">20%</text><text class="l y" x="277.18" y="617.28" textLength="17.02">40%</text><text class="l y" x="277.18" y="601.54" textLength="17.02">60%</text><text class="l y" x="277.18" y="585.8" textLength="17.02">80%</text><text class="l y" x="277.18" y="570.06" textLength="21.75">100%</text>
<text class="l x" x="294.76" y="661.75">1</text><text class="l x" x="311.29" y="661.75">2</text><text class="l x" x="327.82" y="661.75">3</text><text class="l x" x="344.35" y="661.75">4</text><text class="l x" x="360.87" y="661.75">5</text><text class="l x" x="377.4" y="661.75">6</text><text class="l x" x="393.93" y="661.75">7</text><text class="l x" x="410.45" y="661.75">8</text><text class="l x" x="426.98" y="661.75">9</text><text class="l x" x="443.51" y="661.75" textLength="9.31">10</text><text class="l x" x="460.04" y="661.75" textLength="9.31">11</text>
</g>
<path d="M286.5 567.2V646.85" fill="none" stroke="#000" stroke-width="1.8"/><path d="M285.6 645.9H468.3" fill="none" stroke="#000" stroke-width="1.9"/>
<g fill="#000000" stroke="#000000"><path class="s" stroke-width="2.5" d="M294.76 603.72L311.29 631.1L327.82 637.24L344.35 637.56L360.87 641.18L377.4 645.11L393.93 645.9"/><g stroke="none"><circle cx="294.76" cy="603.72" r="2.75"/><circle cx="311.29" cy="631.1" r="2.75"/><circle cx="327.82" cy="637.24" r="2.75"/><circle cx="344.35" cy="637.56" r="2.75"/><circle cx="360.87" cy="641.18" r="2.75"/><circle cx="377.4" cy="645.11" r="2.75"/></g></g>
<g fill="#ED7D31" stroke="#ED7D31"><path class="s" stroke-width="2.5" d="M311.29 645.9L327.82 636.06L344.35 618.83L360.87 607.02L377.4 644.33L393.93 644.72L410.45 645.9"/><path class="f" stroke-width="2.2" d="M294.76 645.9H311.29"/><g stroke="none"><circle cx="294.76" cy="645.9" r="2.75"/><circle cx="327.82" cy="636.06" r="2.75"/><circle cx="344.35" cy="618.83" r="2.75"/><circle cx="360.87" cy="607.02" r="2.75"/><circle cx="377.4" cy="644.33" r="2.75"/><circle cx="393.93" cy="644.72" r="2.75"/></g></g>
<g fill="#C4000C" stroke="#C4000C"><path class="s" stroke-width="2.5" d="M294.76 616.78L311.29 596.79L327.82 644.72L344.35 645.9"/><g stroke="none"><circle cx="294.76" cy="616.78" r="2.75"/><circle cx="311.29" cy="596.79" r="2.75"/><circle cx="327.82" cy="644.72" r="2.75"/></g></g>
<g fill="#2B70B8" stroke="#2B70B8"><path class="s" stroke-width="2.5" d="M294.76 567.2L311.29 645.9"/><path class="f" stroke-width="1.6" d="M311.29 645.3H327.82M327.82 645.3H344.35M344.35 645.3H360.87M360.87 645.3H377.4M377.4 645.3H393.93M393.93 645.3H410.45M410.45 645.3H426.98M426.98 645.3H443.51M443.51 645.3H460.04"/><g stroke="none"><circle cx="294.76" cy="567.2" r="2.75"/><circle cx="311.29" cy="645.9" r="2.75"/><circle cx="327.82" cy="645.9" r="2.75"/><circle cx="344.35" cy="645.9" r="2.75"/><circle cx="360.87" cy="645.9" r="2.75"/><circle cx="377.4" cy="645.9" r="2.75"/><circle cx="393.93" cy="645.9" r="2.75"/><circle cx="410.45" cy="645.9" r="2.75"/><circle cx="426.98" cy="645.9" r="2.75"/><circle cx="443.51" cy="645.9" r="2.75"/><circle cx="460.04" cy="645.9" r="2.75"/></g></g>
</g>
<g id="c15">
<g transform="rotate(.03 603 660)">
<text class="t" x="588" y="553" textLength="15.19" lengthAdjust="spacingAndGlyphs">15</text>
<text class="l y" x="502.33" y="648.16" textLength="12.29">0%</text><text class="l y" x="502.33" y="632.42" textLength="17.02">20%</text><text class="l y" x="502.33" y="616.68" textLength="17.02">40%</text><text class="l y" x="502.33" y="600.94" textLength="17.02">60%</text><text class="l y" x="502.33" y="585.2" textLength="17.02">80%</text><text class="l y" x="502.33" y="569.46" textLength="21.75">100%</text>
<text class="l x" x="520.06" y="661">1</text><text class="l x" x="536.59" y="661">2</text><text class="l x" x="553.12" y="661">3</text><text class="l x" x="569.65" y="661">4</text><text class="l x" x="586.17" y="661">5</text><text class="l x" x="602.7" y="661">6</text><text class="l x" x="619.23" y="661">7</text><text class="l x" x="635.75" y="661">8</text><text class="l x" x="652.28" y="661">9</text><text class="l x" x="668.81" y="661" textLength="9.31">10</text><text class="l x" x="685.34" y="661" textLength="9.31">11</text>
</g>
<path d="M511.8 566.6V646.25" fill="none" stroke="#000" stroke-width="1.8"/><path d="M510.9 645.3H693.6" fill="none" stroke="#000" stroke-width="1.9"/>
<g fill="#000000" stroke="#000000"><path class="s" stroke-width="2.5" d="M520.06 589.19L536.59 630.35L553.12 641.05L569.65 642.7L586.17 644.51L602.7 645.3"/><g stroke="none"><circle cx="520.06" cy="589.19" r="2.75"/><circle cx="536.59" cy="630.35" r="2.75"/><circle cx="553.12" cy="641.05" r="2.75"/><circle cx="569.65" cy="642.7" r="2.75"/><circle cx="586.17" cy="644.51" r="2.75"/></g></g>
<g fill="#ED7D31" stroke="#ED7D31"><path class="s" stroke-width="2.5" d="M520.06 645.3L536.59 610.51L553.12 630.35L569.65 626.96L586.17 636.41L602.7 643.25L619.23 645.3"/><g stroke="none"><circle cx="520.06" cy="645.3" r="2.75"/><circle cx="536.59" cy="610.51" r="2.75"/><circle cx="553.12" cy="630.35" r="2.75"/><circle cx="569.65" cy="626.96" r="2.75"/><circle cx="586.17" cy="636.41" r="2.75"/><circle cx="602.7" cy="643.25" r="2.75"/></g></g>
<g fill="#C4000C" stroke="#C4000C"><path class="s" stroke-width="2.5" d="M520.06 573.68L536.59 638.22L553.12 645.3"/><path class="f" stroke-width="1.3" d="M553.12 644.3H569.65M569.65 644.3H586.17M586.17 644.3H602.7M602.7 644.3H619.23M619.23 644.3H635.75M635.75 644.3H652.28M652.28 644.3H668.81M668.81 644.3H685.34"/><g stroke="none"><circle cx="520.06" cy="573.68" r="2.75"/><circle cx="536.59" cy="638.22" r="2.75"/></g></g>
<g fill="#2B70B8" stroke="#2B70B8"><path class="s" stroke-width="2.5" d="M520.06 574.78L536.59 637.43L553.12 645.3"/><path class="f" stroke-width="1.5" d="M553.12 645.4H569.65M569.65 645.4H586.17M586.17 645.4H602.7M602.7 645.4H619.23M619.23 645.4H635.75M635.75 645.4H652.28M652.28 645.4H668.81M668.81 645.4H685.34"/><g stroke="none"><circle cx="520.06" cy="574.78" r="2.75"/><circle cx="536.59" cy="637.43" r="2.75"/><circle cx="553.12" cy="645.3" r="2.75"/><circle cx="569.65" cy="645.3" r="2.75"/><circle cx="586.17" cy="645.3" r="2.75"/><circle cx="602.7" cy="645.3" r="2.75"/><circle cx="619.23" cy="645.3" r="2.75"/><circle cx="635.75" cy="645.3" r="2.75"/><circle cx="652.28" cy="645.3" r="2.75"/><circle cx="668.81" cy="645.3" r="2.75"/><circle cx="685.34" cy="645.3" r="2.75"/></g></g>
</g>
<g id="c16">
<g transform="rotate(.03 148 796)">
<text class="t" x="133.68" y="688" textLength="15.19" lengthAdjust="spacingAndGlyphs">16</text>
<text class="a" x="120.31" y="691.2">*</text>
<text class="l y" x="47.52" y="783" textLength="12.29">0%</text><text class="l y" x="47.52" y="767.26" textLength="17.02">20%</text><text class="l y" x="47.52" y="751.52" textLength="17.02">40%</text><text class="l y" x="47.52" y="735.78" textLength="17.02">60%</text><text class="l y" x="47.52" y="720.04" textLength="17.02">80%</text><text class="l y" x="47.52" y="704.3" textLength="21.75">100%</text>
<text class="l x" x="65.16" y="796.25">1</text><text class="l x" x="81.69" y="796.25">2</text><text class="l x" x="98.22" y="796.25">3</text><text class="l x" x="114.75" y="796.25">4</text><text class="l x" x="131.27" y="796.25">5</text><text class="l x" x="147.8" y="796.25">6</text><text class="l x" x="164.33" y="796.25">7</text><text class="l x" x="180.85" y="796.25">8</text><text class="l x" x="197.38" y="796.25">9</text><text class="l x" x="213.91" y="796.25" textLength="9.31">10</text><text class="l x" x="230.44" y="796.25" textLength="9.31">11</text>
</g>
<path d="M56.9 701.8V781.45" fill="none" stroke="#000" stroke-width="1.8"/><path d="M56 780.5H238.7" fill="none" stroke="#000" stroke-width="1.9"/>
<g fill="#000000" stroke="#000000"><path class="s" stroke-width="2.5" d="M81.69 780.5L98.22 776.57L114.75 772.63L131.27 763.5L147.8 767.12L164.33 764.37L180.85 768.07L197.38 772.32L213.91 777.35L230.44 778.93"/><g stroke="none"><circle cx="98.22" cy="776.57" r="2.75"/><circle cx="114.75" cy="772.63" r="2.75"/><circle cx="131.27" cy="763.5" r="2.75"/><circle cx="147.8" cy="767.12" r="2.75"/><circle cx="164.33" cy="764.37" r="2.75"/><circle cx="180.85" cy="768.07" r="2.75"/><circle cx="197.38" cy="772.32" r="2.75"/><circle cx="213.91" cy="777.35" r="2.75"/><circle cx="230.44" cy="778.93" r="2.75"/></g></g>
<g fill="#ED7D31" stroke="#ED7D31"><path class="s" stroke-width="2.5" d="M81.69 780.5L98.22 778.93L114.75 778.14L131.27 774.2L147.8 774.99L164.33 765.31L180.85 755.71L197.38 761.22L213.91 774.6L230.44 779.71"/><g stroke="none"><circle cx="98.22" cy="778.93" r="2.75"/><circle cx="114.75" cy="778.14" r="2.75"/><circle cx="131.27" cy="774.2" r="2.75"/><circle cx="147.8" cy="774.99" r="2.75"/><circle cx="164.33" cy="765.31" r="2.75"/><circle cx="180.85" cy="755.71" r="2.75"/><circle cx="197.38" cy="761.22" r="2.75"/><circle cx="213.91" cy="774.6" r="2.75"/><circle cx="230.44" cy="779.71" r="2.75"/></g></g>
<g fill="#C4000C" stroke="#C4000C"><path class="s" stroke-width="2.5" d="M81.69 780.5L98.22 773.26L114.75 771.45L131.27 769.01L147.8 764.92L164.33 767.12L180.85 768.07L197.38 774.6L213.91 775.86L230.44 780.5"/><g stroke="none"><circle cx="98.22" cy="773.26" r="2.75"/><circle cx="114.75" cy="771.45" r="2.75"/><circle cx="131.27" cy="769.01" r="2.75"/><circle cx="147.8" cy="764.92" r="2.75"/><circle cx="164.33" cy="767.12" r="2.75"/><circle cx="180.85" cy="768.07" r="2.75"/><circle cx="197.38" cy="774.6" r="2.75"/><circle cx="213.91" cy="775.86" r="2.75"/><circle cx="230.44" cy="780.5" r="2.75"/></g></g>
<g fill="#2B70B8" stroke="#2B70B8"><path class="s" stroke-width="2.5" d="M98.22 780.5L114.75 780.11L131.27 762.87L147.8 757.91L164.33 760.35L180.85 769.56L197.38 775.46L213.91 779.24L230.44 778.93"/><path class="f" stroke-width="2.3" d="M65.16 780.5H81.69M81.69 780.5H98.22"/><g stroke="none"><circle cx="65.16" cy="780.5" r="2.75"/><circle cx="81.69" cy="780.5" r="2.75"/><circle cx="98.22" cy="780.5" r="2.75"/><circle cx="114.75" cy="780.11" r="2.75"/><circle cx="131.27" cy="762.87" r="2.75"/><circle cx="147.8" cy="757.91" r="2.75"/><circle cx="164.33" cy="760.35" r="2.75"/><circle cx="180.85" cy="769.56" r="2.75"/><circle cx="197.38" cy="775.46" r="2.75"/><circle cx="213.91" cy="779.24" r="2.75"/><circle cx="230.44" cy="778.93" r="2.75"/></g></g>
</g>
<g id="c17">
<g transform="rotate(.03 372 795)">
<text class="t" x="357.73" y="687" textLength="15.19" lengthAdjust="spacingAndGlyphs">17</text>
<text class="a" x="345.5" y="690.72">*</text>
<text class="l y" x="272.08" y="782.56" textLength="12.29">0%</text><text class="l y" x="272.08" y="766.82" textLength="17.02">20%</text><text class="l y" x="272.08" y="751.08" textLength="17.02">40%</text><text class="l y" x="272.08" y="735.34" textLength="17.02">60%</text><text class="l y" x="272.08" y="719.6" textLength="17.02">80%</text><text class="l y" x="272.08" y="703.86" textLength="21.75">100%</text>
<text class="l x" x="289.56" y="795.5">1</text><text class="l x" x="306.09" y="795.5">2</text><text class="l x" x="322.62" y="795.5">3</text><text class="l x" x="339.15" y="795.5">4</text><text class="l x" x="355.67" y="795.5">5</text><text class="l x" x="372.2" y="795.5">6</text><text class="l x" x="388.73" y="795.5">7</text><text class="l x" x="405.25" y="795.5">8</text><text class="l x" x="421.78" y="795.5">9</text><text class="l x" x="438.31" y="795.5" textLength="9.31">10</text><text class="l x" x="454.84" y="795.5" textLength="9.31">11</text>
</g>
<path d="M281.3 701.1V780.75" fill="none" stroke="#000" stroke-width="1.8"/><path d="M280.4 779.8H463.1" fill="none" stroke="#000" stroke-width="1.9"/>
<g fill="#000000" stroke="#000000"><path class="s" stroke-width="2.5" d="M289.56 778.86L306.09 779.17L322.62 779.17L339.15 778.23L355.67 776.26L372.2 775.47L388.73 771.14L405.25 767.21L421.78 759.34L438.31 762.49L454.84 771.3"/><g stroke="none"><circle cx="289.56" cy="778.86" r="2.75"/><circle cx="306.09" cy="779.17" r="2.75"/><circle cx="322.62" cy="779.17" r="2.75"/><circle cx="339.15" cy="778.23" r="2.75"/><circle cx="355.67" cy="776.26" r="2.75"/><circle cx="372.2" cy="775.47" r="2.75"/><circle cx="388.73" cy="771.14" r="2.75"/><circle cx="405.25" cy="767.21" r="2.75"/><circle cx="421.78" cy="759.34" r="2.75"/><circle cx="438.31" cy="762.49" r="2.75"/><circle cx="454.84" cy="771.3" r="2.75"/></g></g>
<g fill="#ED7D31" stroke="#ED7D31"><path class="s" stroke-width="2.5" d="M289.56 771.3L306.09 778.23L322.62 778.62L339.15 778.23L355.67 778.23L372.2 778.23L388.73 776.65L405.25 768L421.78 756.98L438.31 760.91L454.84 770.36"/><g stroke="none"><circle cx="289.56" cy="771.3" r="2.75"/><circle cx="306.09" cy="778.23" r="2.75"/><circle cx="322.62" cy="778.62" r="2.75"/><circle cx="339.15" cy="778.23" r="2.75"/><circle cx="355.67" cy="778.23" r="2.75"/><circle cx="372.2" cy="778.23" r="2.75"/><circle cx="388.73" cy="776.65" r="2.75"/><circle cx="405.25" cy="768" r="2.75"/><circle cx="421.78" cy="756.98" r="2.75"/><circle cx="438.31" cy="760.91" r="2.75"/><circle cx="454.84" cy="770.36" r="2.75"/></g></g>
<g fill="#C4000C" stroke="#C4000C"><path class="s" stroke-width="2.5" d="M322.62 779.56L339.15 777.2L355.67 777.44L372.2 772.4L388.73 765.32L405.25 769.41L421.78 761.7L438.31 765L454.84 769.96"/><g stroke="none"><circle cx="339.15" cy="777.2" r="2.75"/><circle cx="355.67" cy="777.44" r="2.75"/><circle cx="372.2" cy="772.4" r="2.75"/><circle cx="388.73" cy="765.32" r="2.75"/><circle cx="405.25" cy="769.41" r="2.75"/><circle cx="421.78" cy="761.7" r="2.75"/><circle cx="438.31" cy="765" r="2.75"/><circle cx="454.84" cy="769.96" r="2.75"/></g></g>
<g fill="#2B70B8" stroke="#2B70B8"><path class="s" stroke-width="2.5" d="M372.2 779.8L388.73 777.44L405.25 765.71L421.78 754.62L438.31 759.42L454.84 763.12"/><path class="f" stroke-width="2" d="M289.56 779.7H306.09M306.09 779.7H322.62M322.62 779.7H339.15M339.15 779.7H355.67M355.67 779.7H372.2"/><g stroke="none"><circle cx="289.56" cy="779.8" r="2.75"/><circle cx="306.09" cy="779.8" r="2.75"/><circle cx="322.62" cy="779.8" r="2.75"/><circle cx="339.15" cy="779.8" r="2.75"/><circle cx="355.67" cy="779.8" r="2.75"/><circle cx="372.2" cy="779.8" r="2.75"/><circle cx="388.73" cy="777.44" r="2.75"/><circle cx="405.25" cy="765.71" r="2.75"/><circle cx="421.78" cy="754.62" r="2.75"/><circle cx="438.31" cy="759.42" r="2.75"/><circle cx="454.84" cy="763.12" r="2.75"/></g></g>
</g>
<g id="c18">
<g transform="rotate(.03 606 794)">
<text class="t" x="591.14" y="686" textLength="15.19" lengthAdjust="spacingAndGlyphs">18</text>
<text class="l y" x="505.48" y="782.06" textLength="12.29">0%</text><text class="l y" x="505.48" y="766.32" textLength="17.02">20%</text><text class="l y" x="505.48" y="750.58" textLength="17.02">40%</text><text class="l y" x="505.48" y="734.84" textLength="17.02">60%</text><text class="l y" x="505.48" y="719.1" textLength="17.02">80%</text><text class="l y" x="505.48" y="703.36" textLength="21.75">100%</text>
<text class="l x" x="523.26" y="795.25">1</text><text class="l x" x="539.79" y="795.25">2</text><text class="l x" x="556.32" y="795.25">3</text><text class="l x" x="572.85" y="795.25">4</text><text class="l x" x="589.37" y="795.25">5</text><text class="l x" x="605.9" y="795.25">6</text><text class="l x" x="622.43" y="795.25">7</text><text class="l x" x="638.95" y="795.25">8</text><text class="l x" x="655.48" y="795.25">9</text><text class="l x" x="672.01" y="795.25" textLength="9.31">10</text><text class="l x" x="688.54" y="795.25" textLength="9.31">11</text>
</g>
<path d="M515 700.7V780.35" fill="none" stroke="#000" stroke-width="1.8"/><path d="M514.1 779.4H696.8" fill="none" stroke="#000" stroke-width="1.9"/>
<g fill="#000000" stroke="#000000"><path class="s" stroke-width="2.5" d="M523.26 706.6L539.79 773.5L556.32 779.4"/><g stroke="none"><circle cx="523.26" cy="706.6" r="2.75"/><circle cx="539.79" cy="773.5" r="2.75"/></g></g>
<g fill="#ED7D31" stroke="#ED7D31"><path class="s" stroke-width="2.5" d="M523.26 716.44L539.79 764.6L556.32 778.61L572.85 779.4"/><g stroke="none"><circle cx="523.26" cy="716.44" r="2.75"/><circle cx="539.79" cy="764.6" r="2.75"/><circle cx="556.32" cy="778.61" r="2.75"/></g></g>
<g fill="#C4000C" stroke="#C4000C"><path class="s" stroke-width="2.8" d="M523.26 701.88L539.79 778.61L556.32 779.4"/><path class="f" stroke-width="1.2" d="M556.32 778.4H572.85M572.85 778.4H589.37M589.37 778.4H605.9M605.9 778.4H622.43M622.43 778.4H638.95M638.95 778.4H655.48M655.48 778.4H672.01M672.01 778.4H688.54"/><g stroke="none"><circle cx="523.26" cy="701.88" r="2.85"/><circle cx="539.79" cy="778.61" r="2.85"/><circle cx="556.32" cy="779.4" r="2.85"/><circle cx="572.85" cy="779.4" r="2.85"/><circle cx="589.37" cy="779.4" r="2.85"/><circle cx="605.9" cy="779.4" r="2.85"/><circle cx="622.43" cy="779.4" r="2.85"/><circle cx="638.95" cy="779.4" r="2.85"/><circle cx="655.48" cy="779.4" r="2.85"/><circle cx="672.01" cy="779.4" r="2.85"/><circle cx="688.54" cy="779.4" r="2.85"/></g></g>
<g fill="#2B70B8" stroke="#2B70B8"><path class="s" stroke-width="1.4" d="M523.26 701.96L539.79 778.14L556.32 779.4"/><path class="f" stroke-width="1" d="M556.32 779.3H572.85M572.85 779.3H589.37M589.37 779.3H605.9M605.9 779.3H622.43M622.43 779.3H638.95M638.95 779.3H655.48M655.48 779.3H672.01M672.01 779.3H688.54"/><g stroke="none"><circle cx="523.26" cy="701.96" r="2.2"/><circle cx="539.79" cy="778.14" r="2.2"/><circle cx="556.32" cy="779.4" r="2.2"/><circle cx="572.85" cy="779.4" r="2.2"/><circle cx="589.37" cy="779.4" r="2.2"/><circle cx="605.9" cy="779.4" r="2.2"/><circle cx="622.43" cy="779.4" r="2.2"/><circle cx="638.95" cy="779.4" r="2.2"/><circle cx="655.48" cy="779.4" r="2.2"/><circle cx="672.01" cy="779.4" r="2.2"/><circle cx="688.54" cy="779.4" r="2.2"/></g></g>
</g>
<g id="c19">
<g transform="rotate(.03 149 929)">
<text class="t" x="134.36" y="821" textLength="15.19" lengthAdjust="spacingAndGlyphs">19</text>
<text class="l y" x="48.31" y="916.85" textLength="12.29">0%</text><text class="l y" x="48.31" y="901.11" textLength="17.02">20%</text><text class="l y" x="48.31" y="885.37" textLength="17.02">40%</text><text class="l y" x="48.31" y="869.63" textLength="17.02">60%</text><text class="l y" x="48.31" y="853.89" textLength="17.02">80%</text><text class="l y" x="48.31" y="838.15" textLength="21.75">100%</text>
<text class="l x" x="66.26" y="930.25">1</text><text class="l x" x="82.79" y="930.25">2</text><text class="l x" x="99.32" y="930.25">3</text><text class="l x" x="115.85" y="930.25">4</text><text class="l x" x="132.37" y="930.25">5</text><text class="l x" x="148.9" y="930.25">6</text><text class="l x" x="165.43" y="930.25">7</text><text class="l x" x="181.95" y="930.25">8</text><text class="l x" x="198.48" y="930.25">9</text><text class="l x" x="215.01" y="930.25" textLength="9.31">10</text><text class="l x" x="231.54" y="930.25" textLength="9.31">11</text>
</g>
<path d="M58 835.7V915.35" fill="none" stroke="#000" stroke-width="1.8"/><path d="M57.1 914.4H239.8" fill="none" stroke="#000" stroke-width="1.9"/>
<g fill="#000000" stroke="#000000"><path class="s" stroke-width="2.5" d="M66.26 877.73L82.79 891.26L99.32 901.02L115.85 911.25L132.37 912.04L148.9 914.4"/><g stroke="none"><circle cx="66.26" cy="877.73" r="2.75"/><circle cx="82.79" cy="891.26" r="2.75"/><circle cx="99.32" cy="901.02" r="2.75"/><circle cx="115.85" cy="911.25" r="2.75"/><circle cx="132.37" cy="912.04" r="2.75"/></g></g>
<g fill="#ED7D31" stroke="#ED7D31"><path class="s" stroke-width="2.5" d="M66.26 894.02L82.79 909.21L99.32 890L115.85 892.21L132.37 907L148.9 914.4"/><g stroke="none"><circle cx="66.26" cy="894.02" r="2.75"/><circle cx="82.79" cy="909.21" r="2.75"/><circle cx="99.32" cy="890" r="2.75"/><circle cx="115.85" cy="892.21" r="2.75"/><circle cx="132.37" cy="907" r="2.75"/></g></g>
<g fill="#C4000C" stroke="#C4000C"><path class="s" stroke-width="2.5" d="M66.26 869.54L82.79 889.77L99.32 905.74L115.85 914.01L132.37 914.4"/><g stroke="none"><circle cx="66.26" cy="869.54" r="2.75"/><circle cx="82.79" cy="889.77" r="2.75"/><circle cx="99.32" cy="905.74" r="2.75"/><circle cx="115.85" cy="914.01" r="2.75"/></g></g>
<g fill="#2B70B8" stroke="#2B70B8"><path class="s" stroke-width="2.5" d="M66.26 839.79L82.79 910.15L99.32 914.4"/><path class="f" stroke-width="2.3" d="M99.32 914.4H115.85M115.85 914.4H132.37M132.37 914.4H148.9M148.9 914.4H165.43M165.43 914.4H181.95M181.95 914.4H198.48M198.48 914.4H215.01M215.01 914.4H231.54"/><g stroke="none"><circle cx="66.26" cy="839.79" r="2.75"/><circle cx="82.79" cy="910.15" r="2.75"/><circle cx="99.32" cy="914.4" r="2.75"/><circle cx="115.85" cy="914.4" r="2.75"/><circle cx="132.37" cy="914.4" r="2.75"/><circle cx="148.9" cy="914.4" r="2.75"/><circle cx="165.43" cy="914.4" r="2.75"/><circle cx="181.95" cy="914.4" r="2.75"/><circle cx="198.48" cy="914.4" r="2.75"/><circle cx="215.01" cy="914.4" r="2.75"/><circle cx="231.54" cy="914.4" r="2.75"/></g></g>
</g>
<g id="c20">
<g transform="rotate(.03 375 929)">
<text class="t" x="360.66" y="821" textLength="15.19" lengthAdjust="spacingAndGlyphs">20</text>
<text class="l y" x="275.1" y="916.76" textLength="12.29">0%</text><text class="l y" x="275.1" y="901.02" textLength="17.02">20%</text><text class="l y" x="275.1" y="885.28" textLength="17.02">40%</text><text class="l y" x="275.1" y="869.54" textLength="17.02">60%</text><text class="l y" x="275.1" y="853.8" textLength="17.02">80%</text><text class="l y" x="275.1" y="838.06" textLength="21.75">100%</text>
<text class="l x" x="292.66" y="930">1</text><text class="l x" x="309.19" y="930">2</text><text class="l x" x="325.72" y="930">3</text><text class="l x" x="342.25" y="930">4</text><text class="l x" x="358.77" y="930">5</text><text class="l x" x="375.3" y="930">6</text><text class="l x" x="391.83" y="930">7</text><text class="l x" x="408.35" y="930">8</text><text class="l x" x="424.88" y="930">9</text><text class="l x" x="441.41" y="930" textLength="9.31">10</text><text class="l x" x="457.94" y="930" textLength="9.31">11</text>
</g>
<path d="M284.4 835.42V915.07" fill="none" stroke="#000" stroke-width="1.8"/><path d="M283.5 914.12H466.2" fill="none" stroke="#000" stroke-width="1.9"/>
<g fill="#000000" stroke="#000000"><path class="s" stroke-width="2.5" d="M292.66 858.56L309.19 894.29L325.72 911.76L342.25 913.33L358.77 914.12"/><g stroke="none"><circle cx="292.66" cy="858.56" r="2.75"/><circle cx="309.19" cy="894.29" r="2.75"/><circle cx="325.72" cy="911.76" r="2.75"/><circle cx="342.25" cy="913.33" r="2.75"/></g></g>
<g fill="#ED7D31" stroke="#ED7D31"><path class="s" stroke-width="2.8" d="M292.66 914.12L309.19 835.97L325.72 913.33L342.25 914.12"/><g stroke="none"><circle cx="292.66" cy="914.12" r="2.7"/><circle cx="309.19" cy="835.97" r="2.7"/><circle cx="325.72" cy="913.33" r="2.7"/></g></g>
<g fill="#C4000C" stroke="#C4000C"><path class="s" stroke-width="2.6" d="M292.31 835.42L308.84 914.12"/><path class="f" stroke-width="1" d="M308.84 912.82H325.37M325.37 912.82H341.9M341.9 912.82H358.42M358.42 912.82H374.95M374.95 912.82H391.48M391.48 912.82H408M408 912.82H424.53M424.53 912.82H441.06M441.06 912.82H457.59"/><g stroke="none"><circle cx="292.31" cy="835.42" r="2.8"/><circle cx="308.84" cy="914.12" r="2.8"/><circle cx="325.37" cy="914.12" r="2.8"/><circle cx="341.9" cy="914.12" r="2.8"/><circle cx="358.42" cy="914.12" r="2.8"/><circle cx="374.95" cy="914.12" r="2.8"/><circle cx="391.48" cy="914.12" r="2.8"/><circle cx="408" cy="914.12" r="2.8"/><circle cx="424.53" cy="914.12" r="2.8"/><circle cx="441.06" cy="914.12" r="2.8"/><circle cx="457.59" cy="914.12" r="2.8"/></g></g>
<g fill="#2B70B8" stroke="#2B70B8"><path class="s" stroke-width="2.3" d="M292.66 835.42L309.19 914.12"/><path class="f" stroke-width="1.1" d="M309.19 913.52H325.72M325.72 913.52H342.25M342.25 913.52H358.77M358.77 913.52H375.3M375.3 913.52H391.83M391.83 913.52H408.35M408.35 913.52H424.88M424.88 913.52H441.41M441.41 913.52H457.94"/><g stroke="none"><circle cx="292.66" cy="835.42" r="2.6"/><circle cx="309.19" cy="914.12" r="2.4"/><circle cx="325.72" cy="914.12" r="2.4"/><circle cx="342.25" cy="914.12" r="2.4"/><circle cx="358.77" cy="914.12" r="2.4"/><circle cx="375.3" cy="914.12" r="2.4"/><circle cx="391.83" cy="914.12" r="2.4"/><circle cx="408.35" cy="914.12" r="2.4"/><circle cx="424.88" cy="914.12" r="2.4"/><circle cx="441.41" cy="914.12" r="2.4"/><circle cx="457.94" cy="914.12" r="2.4"/></g></g>
</g>
<g id="c21">
<g transform="rotate(.03 608 929)">
<text class="t" x="593.07" y="821" textLength="14.42" lengthAdjust="spacingAndGlyphs">21</text>
<text class="a" x="579.8" y="823.66">*</text>
<text class="l y" x="507.37" y="916.76" textLength="12.29">0%</text><text class="l y" x="507.37" y="901.02" textLength="17.02">20%</text><text class="l y" x="507.37" y="885.28" textLength="17.02">40%</text><text class="l y" x="507.37" y="869.54" textLength="17.02">60%</text><text class="l y" x="507.37" y="853.8" textLength="17.02">80%</text><text class="l y" x="507.37" y="838.06" textLength="21.75">100%</text>
<text class="l x" x="525.46" y="930">1</text><text class="l x" x="541.99" y="930">2</text><text class="l x" x="558.52" y="930">3</text><text class="l x" x="575.05" y="930">4</text><text class="l x" x="591.57" y="930">5</text><text class="l x" x="608.1" y="930">6</text><text class="l x" x="624.63" y="930">7</text><text class="l x" x="641.15" y="930">8</text><text class="l x" x="657.68" y="930">9</text><text class="l x" x="674.21" y="930" textLength="9.31">10</text><text class="l x" x="690.74" y="930" textLength="9.31">11</text>
</g>
<path d="M517.2 835.42V915.07" fill="none" stroke="#000" stroke-width="1.8"/><path d="M516.3 914.12H699" fill="none" stroke="#000" stroke-width="1.9"/>
<g fill="#000000" stroke="#000000"><path class="s" stroke-width="2.5" d="M525.46 888.78L541.99 889.33L558.52 900.27L575.05 906.88L591.57 910.42L608.1 912.55L624.63 913.73L641.15 914.12"/><g stroke="none"><circle cx="525.46" cy="888.78" r="2.75"/><circle cx="541.99" cy="889.33" r="2.75"/><circle cx="558.52" cy="900.27" r="2.75"/><circle cx="575.05" cy="906.88" r="2.75"/><circle cx="591.57" cy="910.42" r="2.75"/><circle cx="608.1" cy="912.55" r="2.75"/><circle cx="624.63" cy="913.73" r="2.75"/></g></g>
<g fill="#ED7D31" stroke="#ED7D31"><path class="s" stroke-width="2.5" d="M525.46 883.19L541.99 884.21L558.52 900.27L575.05 910.58L591.57 913.33L608.1 914.12"/><g stroke="none"><circle cx="525.46" cy="883.19" r="2.75"/><circle cx="541.99" cy="884.21" r="2.75"/><circle cx="558.52" cy="900.27" r="2.75"/><circle cx="575.05" cy="910.58" r="2.75"/><circle cx="591.57" cy="913.33" r="2.75"/></g></g>
<g fill="#C4000C" stroke="#C4000C"><path class="s" stroke-width="2.5" d="M525.46 866.11L541.99 887.44L558.52 911.37L575.05 913.73L591.57 914.12"/><g stroke="none"><circle cx="525.46" cy="866.11" r="2.75"/><circle cx="541.99" cy="887.44" r="2.75"/><circle cx="558.52" cy="911.37" r="2.75"/><circle cx="575.05" cy="913.73" r="2.75"/></g></g>
<g fill="#2B70B8" stroke="#2B70B8"><path class="s" stroke-width="2.5" d="M525.46 879.89L541.99 877.13L558.52 908.22L575.05 914.12"/><path class="f" stroke-width="1.4" d="M575.05 913.52H591.57M591.57 913.52H608.1M608.1 913.52H624.63M624.63 913.52H641.15M641.15 913.52H657.68M657.68 913.52H674.21M674.21 913.52H690.74"/><g stroke="none"><circle cx="525.46" cy="879.89" r="2.75"/><circle cx="541.99" cy="877.13" r="2.75"/><circle cx="558.52" cy="908.22" r="2.75"/><circle cx="575.05" cy="914.12" r="2.75"/><circle cx="591.57" cy="914.12" r="2.75"/><circle cx="608.1" cy="914.12" r="2.75"/><circle cx="624.63" cy="914.12" r="2.75"/><circle cx="641.15" cy="914.12" r="2.75"/><circle cx="657.68" cy="914.12" r="2.75"/><circle cx="674.21" cy="914.12" r="2.75"/><circle cx="690.74" cy="914.12" r="2.75"/></g></g>
</g>
<g id="c22">
<g transform="rotate(.03 151 1066)">
<text class="t" x="136.6" y="958" textLength="15.19" lengthAdjust="spacingAndGlyphs">22</text>
<text class="l y" x="50.31" y="1053.61" textLength="12.29">0%</text><text class="l y" x="50.31" y="1037.87" textLength="17.02">20%</text><text class="l y" x="50.31" y="1022.13" textLength="17.02">40%</text><text class="l y" x="50.31" y="1006.39" textLength="17.02">60%</text><text class="l y" x="50.31" y="990.65" textLength="17.02">80%</text><text class="l y" x="50.31" y="974.91" textLength="21.75">100%</text>
<text class="l x" x="68.26" y="1066.75">1</text><text class="l x" x="84.79" y="1066.75">2</text><text class="l x" x="101.32" y="1066.75">3</text><text class="l x" x="117.85" y="1066.75">4</text><text class="l x" x="134.37" y="1066.75">5</text><text class="l x" x="150.9" y="1066.75">6</text><text class="l x" x="167.43" y="1066.75">7</text><text class="l x" x="183.95" y="1066.75">8</text><text class="l x" x="200.48" y="1066.75">9</text><text class="l x" x="217.01" y="1066.75" textLength="9.31">10</text><text class="l x" x="233.54" y="1066.75" textLength="9.31">11</text>
</g>
<path d="M60 972.15V1051.8" fill="none" stroke="#000" stroke-width="1.8"/><path d="M59.1 1050.85H241.8" fill="none" stroke="#000" stroke-width="1.9"/>
<g fill="#000000" stroke="#000000"><path class="s" stroke-width="2.5" d="M68.26 1011.5L84.79 1020.94L101.32 1041.56L117.85 1050.46L134.37 1050.85"/><g stroke="none"><circle cx="68.26" cy="1011.5" r="2.75"/><circle cx="84.79" cy="1020.94" r="2.75"/><circle cx="101.32" cy="1041.56" r="2.75"/><circle cx="117.85" cy="1050.46" r="2.75"/></g></g>
<g fill="#ED7D31" stroke="#ED7D31"><path class="s" stroke-width="2.5" d="M68.26 1050.06L84.79 995.76L101.32 1028.97L117.85 1050.06L134.37 1050.85"/><g stroke="none"><circle cx="68.26" cy="1050.06" r="2.75"/><circle cx="84.79" cy="995.76" r="2.75"/><circle cx="101.32" cy="1028.97" r="2.75"/><circle cx="117.85" cy="1050.06" r="2.75"/></g></g>
<g fill="#C4000C" stroke="#C4000C"><path class="s" stroke-width="2.5" d="M68.26 972.15L84.79 1050.85"/><path class="f" stroke-width="2.2" d="M84.79 1050.85H101.32M101.32 1050.85H117.85"/><g stroke="none"><circle cx="68.26" cy="972.15" r="2.75"/><circle cx="84.79" cy="1050.85" r="2.75"/><circle cx="101.32" cy="1050.85" r="2.75"/></g></g>
<g fill="#2B70B8" stroke="#2B70B8"><path class="s" stroke-width="2.5" d="M68.26 1007.33L84.79 1022.52L101.32 1043.45L117.85 1050.85"/><path class="f" stroke-width="1.9" d="M117.85 1049.75H134.37M134.37 1049.75H150.9M150.9 1049.75H167.43M167.43 1049.75H183.95M183.95 1049.75H200.48M200.48 1049.75H217.01M217.01 1049.75H233.54"/><g stroke="none"><circle cx="68.26" cy="1007.33" r="2.75"/><circle cx="84.79" cy="1022.52" r="2.75"/><circle cx="101.32" cy="1043.45" r="2.75"/><circle cx="117.85" cy="1050.85" r="2.75"/><circle cx="134.37" cy="1050.85" r="2.75"/><circle cx="150.9" cy="1050.85" r="2.75"/><circle cx="167.43" cy="1050.85" r="2.75"/><circle cx="183.95" cy="1050.85" r="2.75"/><circle cx="200.48" cy="1050.85" r="2.75"/><circle cx="217.01" cy="1050.85" r="2.75"/><circle cx="233.54" cy="1050.85" r="2.75"/></g></g>
</g>
<g id="c23">
<g transform="rotate(.03 376 1065)">
<text class="t" x="361.74" y="957" textLength="15.19" lengthAdjust="spacingAndGlyphs">23</text>
<text class="a" x="348.7" y="959.69">*</text>
<text class="l y" x="276.18" y="1052.76" textLength="12.29">0%</text><text class="l y" x="276.18" y="1037.02" textLength="17.02">20%</text><text class="l y" x="276.18" y="1021.28" textLength="17.02">40%</text><text class="l y" x="276.18" y="1005.54" textLength="17.02">60%</text><text class="l y" x="276.18" y="989.8" textLength="17.02">80%</text><text class="l y" x="276.18" y="974.06" textLength="21.75">100%</text>
<text class="l x" x="293.66" y="1065.75">1</text><text class="l x" x="310.19" y="1065.75">2</text><text class="l x" x="326.72" y="1065.75">3</text><text class="l x" x="343.25" y="1065.75">4</text><text class="l x" x="359.77" y="1065.75">5</text><text class="l x" x="376.3" y="1065.75">6</text><text class="l x" x="392.83" y="1065.75">7</text><text class="l x" x="409.35" y="1065.75">8</text><text class="l x" x="425.88" y="1065.75">9</text><text class="l x" x="442.41" y="1065.75" textLength="9.31">10</text><text class="l x" x="458.94" y="1065.75" textLength="9.31">11</text>
</g>
<path d="M285.4 971.24V1050.89" fill="none" stroke="#000" stroke-width="1.8"/><path d="M284.5 1049.94H467.2" fill="none" stroke="#000" stroke-width="1.9"/>
<g fill="#000000" stroke="#000000"><path class="s" stroke-width="2.5" d="M343.25 1049.94L359.77 1048.37L376.3 1042.38L392.83 1036.25L409.35 1030.11L425.88 1028.3L442.41 1036.25L458.94 1047.89"/><g stroke="none"><circle cx="359.77" cy="1048.37" r="2.75"/><circle cx="376.3" cy="1042.38" r="2.75"/><circle cx="392.83" cy="1036.25" r="2.75"/><circle cx="409.35" cy="1030.11" r="2.75"/><circle cx="425.88" cy="1028.3" r="2.75"/><circle cx="442.41" cy="1036.25" r="2.75"/><circle cx="458.94" cy="1047.89" r="2.75"/></g></g>
<g fill="#ED7D31" stroke="#ED7D31"><path class="s" stroke-width="2.5" d="M376.3 1049.94L392.83 1044.9L409.35 1042.38L425.88 1022L442.41 1016.41L458.94 1042.7"/><path class="f" stroke-width="2.2" d="M343.25 1049.94H359.77M359.77 1049.94H376.3"/><g stroke="none"><circle cx="359.77" cy="1049.94" r="2.75"/><circle cx="376.3" cy="1049.94" r="2.75"/><circle cx="392.83" cy="1044.9" r="2.75"/><circle cx="409.35" cy="1042.38" r="2.75"/><circle cx="425.88" cy="1022" r="2.75"/><circle cx="442.41" cy="1016.41" r="2.75"/><circle cx="458.94" cy="1042.7" r="2.75"/></g></g>
<g fill="#C4000C" stroke="#C4000C"><path class="s" stroke-width="2.5" d="M326.72 1049.94L343.25 1047.34L359.77 1034.04L376.3 1031.21L392.83 1024.21L409.35 1035.77L425.88 1046.79L442.41 1049.55L458.94 1049.94"/><g stroke="none"><circle cx="343.25" cy="1047.34" r="2.75"/><circle cx="359.77" cy="1034.04" r="2.75"/><circle cx="376.3" cy="1031.21" r="2.75"/><circle cx="392.83" cy="1024.21" r="2.75"/><circle cx="409.35" cy="1035.77" r="2.75"/><circle cx="425.88" cy="1046.79" r="2.75"/><circle cx="442.41" cy="1049.55" r="2.75"/></g></g>
<g fill="#2B70B8" stroke="#2B70B8"><path class="s" stroke-width="2.5" d="M343.25 1049.94L359.77 1045.85L376.3 1032L392.83 1025.15L409.35 1026.02L425.88 1041.44L442.41 1047.74L458.94 1049.94"/><path class="f" stroke-width="2" d="M293.66 1049.94H310.19M310.19 1049.94H326.72M326.72 1049.94H343.25"/><g stroke="none"><circle cx="293.66" cy="1049.94" r="2.75"/><circle cx="310.19" cy="1049.94" r="2.75"/><circle cx="326.72" cy="1049.94" r="2.75"/><circle cx="343.25" cy="1049.94" r="2.75"/><circle cx="359.77" cy="1045.85" r="2.75"/><circle cx="376.3" cy="1032" r="2.75"/><circle cx="392.83" cy="1025.15" r="2.75"/><circle cx="409.35" cy="1026.02" r="2.75"/><circle cx="425.88" cy="1041.44" r="2.75"/><circle cx="442.41" cy="1047.74" r="2.75"/><circle cx="458.94" cy="1049.94" r="2.75"/></g></g>
</g>
<text transform="translate(17.2 532.2) rotate(-90) skewX(-6)" text-anchor="middle" style="font:italic bold 25px 'Liberation Serif',serif;stroke:#000;stroke-width:.4px" fill="#000">P</text>
<text x="351.3" y="1098" style="font:bold 25.4px 'Liberation Serif',serif;stroke:#000;stroke-width:.3px" fill="#000">N<tspan dy="5.6" style="font-size:16.2px">c</tspan></text>
</svg>
</body></html>
